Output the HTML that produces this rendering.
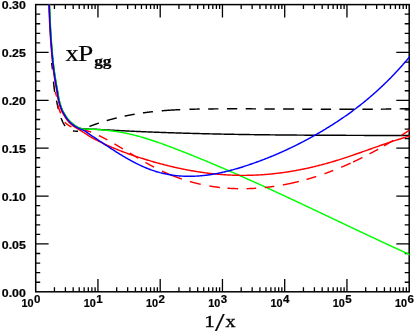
<!DOCTYPE html>
<html><head><meta charset="utf-8"><title>xPgg</title>
<style>html,body{margin:0;padding:0;background:#fff;}body{width:415px;height:333px;overflow:hidden;font-family:"Liberation Sans",sans-serif;}</style></head>
<body>
<svg width="415" height="333" viewBox="0 0 415 333" style="display:block;will-change:transform">
<rect width="415" height="333" fill="#fff"/>
<defs><clipPath id="c"><rect x="34.95" y="3.8499999999999996" width="375.0" height="288.7"/></clipPath><mask id="m"><rect width="415" height="333" fill="#fff"/></mask></defs>
<path d="M35.7,282.23h4.5 M409.2,282.23h-4.5 M35.7,272.65h4.5 M409.2,272.65h-4.5 M35.7,263.08h4.5 M409.2,263.08h-4.5 M35.7,253.51h4.5 M409.2,253.51h-4.5 M35.7,243.93h12.9 M409.2,243.93h-12.9 M35.7,234.36h4.5 M409.2,234.36h-4.5 M35.7,224.79h4.5 M409.2,224.79h-4.5 M35.7,215.21h4.5 M409.2,215.21h-4.5 M35.7,205.64h4.5 M409.2,205.64h-4.5 M35.7,196.07h12.9 M409.2,196.07h-12.9 M35.7,186.49h4.5 M409.2,186.49h-4.5 M35.7,176.92h4.5 M409.2,176.92h-4.5 M35.7,167.35h4.5 M409.2,167.35h-4.5 M35.7,157.77h4.5 M409.2,157.77h-4.5 M35.7,148.20h12.9 M409.2,148.20h-12.9 M35.7,138.63h4.5 M409.2,138.63h-4.5 M35.7,129.05h4.5 M409.2,129.05h-4.5 M35.7,119.48h4.5 M409.2,119.48h-4.5 M35.7,109.91h4.5 M409.2,109.91h-4.5 M35.7,100.33h12.9 M409.2,100.33h-12.9 M35.7,90.76h4.5 M409.2,90.76h-4.5 M35.7,81.19h4.5 M409.2,81.19h-4.5 M35.7,71.61h4.5 M409.2,71.61h-4.5 M35.7,62.04h4.5 M409.2,62.04h-4.5 M35.7,52.47h12.9 M409.2,52.47h-12.9 M35.7,42.89h4.5 M409.2,42.89h-4.5 M35.7,33.32h4.5 M409.2,33.32h-4.5 M35.7,23.75h4.5 M409.2,23.75h-4.5 M35.7,14.17h4.5 M409.2,14.17h-4.5 M54.44,291.8v-4.5 M54.44,4.6v4.5 M65.40,291.8v-4.5 M65.40,4.6v4.5 M73.18,291.8v-4.5 M73.18,4.6v4.5 M79.21,291.8v-4.5 M79.21,4.6v4.5 M84.14,291.8v-4.5 M84.14,4.6v4.5 M88.31,291.8v-4.5 M88.31,4.6v4.5 M91.92,291.8v-4.5 M91.92,4.6v4.5 M95.10,291.8v-4.5 M95.10,4.6v4.5 M97.95,291.8v-12.9 M97.95,4.6v12.9 M116.69,291.8v-4.5 M116.69,4.6v4.5 M127.65,291.8v-4.5 M127.65,4.6v4.5 M135.43,291.8v-4.5 M135.43,4.6v4.5 M141.46,291.8v-4.5 M141.46,4.6v4.5 M146.39,291.8v-4.5 M146.39,4.6v4.5 M150.56,291.8v-4.5 M150.56,4.6v4.5 M154.17,291.8v-4.5 M154.17,4.6v4.5 M157.35,291.8v-4.5 M157.35,4.6v4.5 M160.20,291.8v-12.9 M160.20,4.6v12.9 M178.94,291.8v-4.5 M178.94,4.6v4.5 M189.90,291.8v-4.5 M189.90,4.6v4.5 M197.68,291.8v-4.5 M197.68,4.6v4.5 M203.71,291.8v-4.5 M203.71,4.6v4.5 M208.64,291.8v-4.5 M208.64,4.6v4.5 M212.81,291.8v-4.5 M212.81,4.6v4.5 M216.42,291.8v-4.5 M216.42,4.6v4.5 M219.60,291.8v-4.5 M219.60,4.6v4.5 M222.45,291.8v-12.9 M222.45,4.6v12.9 M241.19,291.8v-4.5 M241.19,4.6v4.5 M252.15,291.8v-4.5 M252.15,4.6v4.5 M259.93,291.8v-4.5 M259.93,4.6v4.5 M265.96,291.8v-4.5 M265.96,4.6v4.5 M270.89,291.8v-4.5 M270.89,4.6v4.5 M275.06,291.8v-4.5 M275.06,4.6v4.5 M278.67,291.8v-4.5 M278.67,4.6v4.5 M281.85,291.8v-4.5 M281.85,4.6v4.5 M284.70,291.8v-12.9 M284.70,4.6v12.9 M303.44,291.8v-4.5 M303.44,4.6v4.5 M314.40,291.8v-4.5 M314.40,4.6v4.5 M322.18,291.8v-4.5 M322.18,4.6v4.5 M328.21,291.8v-4.5 M328.21,4.6v4.5 M333.14,291.8v-4.5 M333.14,4.6v4.5 M337.31,291.8v-4.5 M337.31,4.6v4.5 M340.92,291.8v-4.5 M340.92,4.6v4.5 M344.10,291.8v-4.5 M344.10,4.6v4.5 M346.95,291.8v-12.9 M346.95,4.6v12.9 M365.69,291.8v-4.5 M365.69,4.6v4.5 M376.65,291.8v-4.5 M376.65,4.6v4.5 M384.43,291.8v-4.5 M384.43,4.6v4.5 M390.46,291.8v-4.5 M390.46,4.6v4.5 M395.39,291.8v-4.5 M395.39,4.6v4.5 M399.56,291.8v-4.5 M399.56,4.6v4.5 M403.17,291.8v-4.5 M403.17,4.6v4.5 M406.35,291.8v-4.5 M406.35,4.6v4.5" stroke="#000" stroke-width="1.3" fill="none"/>
<rect x="35.7" y="4.6" width="373.5" height="287.2" fill="none" stroke="#000" stroke-width="1.5"/>
<g clip-path="url(#c)" fill="none" stroke-linecap="butt" stroke-linejoin="round">
<path d="M49.40,4.60 L49.42,5.37 L49.44,6.14 L49.47,6.92 L49.49,7.69 L49.52,8.46 L49.54,9.23 L49.57,10.01 L49.60,10.78 L49.63,11.55 L49.65,12.32 L49.68,13.09 L49.72,13.86 L49.75,14.64 L49.78,15.41 L49.81,16.18 L49.85,16.95 L49.88,17.72 L49.91,18.49 L49.95,19.27 L49.99,20.04 L50.02,20.81 L50.06,21.58 L50.10,22.35 L50.14,23.12 L50.17,23.89 L50.21,24.66 L50.25,25.44 L50.29,26.21 L50.34,26.98 L50.38,27.75 L50.42,28.52 L50.46,29.29 L50.50,30.06 L50.55,30.83 L50.59,31.60 L50.64,32.37 L50.68,33.14 L50.73,33.92 L50.78,34.69 L50.83,35.46 L50.88,36.23 L50.93,37.00 L50.98,37.77 L51.03,38.54 L51.08,39.31 L51.14,40.08 L51.19,40.85 L51.25,41.62 L51.31,42.39 L51.37,43.16 L51.43,43.93 L51.49,44.70 L51.55,45.47 L51.61,46.24 L51.67,47.01 L51.73,47.78 L51.80,48.55 L51.86,49.32 L51.93,50.09 L51.99,50.86 L52.06,51.63 L52.13,52.40 L52.20,53.17 L52.27,53.94 L52.34,54.71 L52.41,55.48 L52.48,56.25 L52.56,57.02 L52.63,57.78 L52.71,58.55 L52.78,59.32 L52.86,60.09 L52.94,60.86 L53.01,61.62 L53.10,62.39 L53.18,63.16 L53.27,63.93 L53.36,64.69 L53.45,65.46 L53.54,66.23 L53.64,66.99 L53.74,67.76 L53.84,68.53 L53.94,69.29 L54.05,70.06 L54.15,70.82 L54.26,71.59 L54.37,72.35 L54.48,73.12 L54.59,73.88 L54.70,74.65 L54.81,75.41 L54.93,76.17 L55.04,76.94 L55.16,77.70 L55.28,78.46 L55.41,79.22 L55.53,79.98 L55.66,80.75 L55.79,81.51 L55.93,82.27 L56.06,83.03 L56.20,83.79 L56.33,84.55 L56.47,85.31 L56.60,86.07 L56.74,86.83 L56.88,87.59 L57.01,88.35 L57.15,89.11 L57.28,89.87 L57.41,90.63 L57.53,91.40 L57.66,92.16 L57.78,92.93 L57.90,93.69 L58.02,94.46 L58.15,95.22 L58.27,95.98 L58.40,96.74 L58.54,97.50 L58.68,98.26 L58.84,99.02 L59.00,99.77 L59.17,100.52 L59.35,101.26 L59.54,102.01 L59.74,102.76 L59.96,103.51 L60.18,104.26 L60.41,105.00 L60.65,105.74 L60.90,106.48 L61.16,107.21 L61.42,107.93 L61.70,108.65 L61.98,109.36 L62.28,110.06 L62.59,110.76 L62.94,111.45 L63.31,112.13 L63.70,112.80 L64.10,113.47 L64.51,114.13 L64.92,114.79 L65.32,115.44 L65.73,116.10 L66.15,116.76 L66.57,117.41 L67.01,118.06 L67.46,118.69 L67.92,119.30 L68.40,119.89 L68.91,120.46 L69.43,121.02 L69.97,121.57 L70.53,122.12 L71.11,122.64 L71.70,123.16 L72.30,123.66 L72.91,124.14 L73.52,124.60 L74.14,125.04 L74.77,125.49 L75.42,125.93 L76.09,126.36 L76.76,126.76 L77.44,127.12 L78.14,127.45 L78.84,127.72 L79.56,127.95 L80.30,128.19 L81.06,128.40 L81.82,128.59 L82.58,128.74 L83.35,128.85 L84.11,128.91 L84.87,128.96 L85.64,128.99 L86.41,129.02 L87.18,129.05 L87.95,129.07 L88.72,129.09 L89.50,129.10 L90.27,129.12 L91.05,129.14 L91.83,129.15 L92.60,129.17 L93.38,129.20 L94.15,129.22 L94.92,129.25 L95.69,129.29 L96.46,129.34 L97.23,129.39 L98.00,129.44 L98.78,129.48 L99.55,129.53 L100.32,129.57 L101.09,129.62 L101.86,129.66 L102.63,129.70 L103.40,129.75 L104.17,129.79 L104.94,129.83 L105.71,129.88 L106.49,129.92 L107.26,129.96 L108.03,130.01 L108.80,130.05 L109.57,130.09 L110.34,130.13 L111.11,130.17 L111.88,130.21 L112.66,130.26 L113.43,130.30 L114.20,130.34 L114.97,130.38 L115.74,130.42 L116.51,130.46 L117.28,130.50 L118.05,130.54 L118.82,130.58 L119.60,130.61 L120.37,130.65 L121.14,130.69 L121.91,130.73 L122.68,130.77 L123.45,130.81 L124.22,130.84 L125.00,130.88 L125.77,130.92 L126.54,130.96 L127.31,130.99 L128.08,131.03 L128.85,131.07 L129.62,131.10 L130.40,131.14 L131.17,131.18 L131.94,131.21 L132.71,131.25 L133.48,131.28 L134.25,131.32 L135.02,131.35 L135.80,131.39 L136.57,131.42 L137.34,131.45 L138.11,131.49 L138.88,131.52 L139.65,131.56 L140.42,131.59 L141.20,131.62 L141.97,131.66 L142.74,131.69 L143.51,131.72 L144.28,131.75 L145.05,131.79 L145.83,131.82 L146.60,131.85 L147.37,131.88 L148.14,131.91 L148.91,131.94 L149.68,131.98 L150.46,132.01 L151.23,132.04 L152.00,132.07 L152.77,132.10 L153.54,132.13 L154.31,132.16 L155.09,132.19 L155.86,132.22 L156.63,132.25 L157.40,132.27 L158.17,132.30 L158.94,132.33 L159.72,132.36 L160.49,132.39 L161.26,132.42 L162.03,132.45 L162.80,132.47 L163.58,132.50 L164.35,132.53 L165.12,132.56 L165.89,132.58 L166.66,132.61 L167.43,132.64 L168.21,132.66 L168.98,132.69 L169.75,132.72 L170.52,132.74 L171.29,132.77 L172.07,132.79 L172.84,132.82 L173.61,132.84 L174.38,132.87 L175.15,132.89 L175.92,132.92 L176.70,132.94 L177.47,132.97 L178.24,132.99 L179.01,133.02 L179.78,133.04 L180.56,133.06 L181.33,133.09 L182.10,133.11 L182.87,133.13 L183.64,133.16 L184.42,133.18 L185.19,133.20 L185.96,133.23 L186.73,133.25 L187.50,133.27 L188.28,133.29 L189.05,133.32 L189.82,133.34 L190.59,133.36 L191.36,133.38 L192.13,133.40 L192.91,133.42 L193.68,133.44 L194.45,133.46 L195.22,133.49 L195.99,133.51 L196.77,133.53 L197.54,133.55 L198.31,133.57 L199.08,133.59 L199.85,133.61 L200.63,133.63 L201.40,133.65 L202.17,133.66 L202.94,133.68 L203.72,133.70 L204.49,133.72 L205.26,133.74 L206.03,133.76 L206.80,133.78 L207.58,133.80 L208.35,133.81 L209.12,133.83 L209.89,133.85 L210.66,133.87 L211.44,133.89 L212.21,133.90 L212.98,133.92 L213.75,133.94 L214.52,133.95 L215.30,133.97 L216.07,133.99 L216.84,134.00 L217.61,134.02 L218.38,134.04 L219.16,134.05 L219.93,134.07 L220.70,134.08 L221.47,134.10 L222.25,134.12 L223.02,134.13 L223.79,134.15 L224.56,134.16 L225.33,134.18 L226.11,134.19 L226.88,134.21 L227.65,134.22 L228.42,134.24 L229.19,134.25 L229.97,134.27 L230.74,134.28 L231.51,134.29 L232.28,134.31 L233.06,134.32 L233.83,134.34 L234.60,134.35 L235.37,134.36 L236.14,134.38 L236.92,134.39 L237.69,134.40 L238.46,134.41 L239.23,134.43 L240.00,134.44 L240.78,134.45 L241.55,134.47 L242.32,134.48 L243.09,134.49 L243.87,134.50 L244.64,134.51 L245.41,134.53 L246.18,134.54 L246.95,134.55 L247.73,134.56 L248.50,134.57 L249.27,134.58 L250.04,134.60 L250.82,134.61 L251.59,134.62 L252.36,134.63 L253.13,134.64 L253.90,134.65 L254.68,134.66 L255.45,134.67 L256.22,134.68 L256.99,134.69 L257.76,134.70 L258.54,134.71 L259.31,134.72 L260.08,134.73 L260.85,134.74 L261.63,134.75 L262.40,134.76 L263.17,134.77 L263.94,134.78 L264.71,134.79 L265.49,134.80 L266.26,134.81 L267.03,134.82 L267.80,134.83 L268.58,134.83 L269.35,134.84 L270.12,134.85 L270.89,134.86 L271.66,134.87 L272.44,134.88 L273.21,134.88 L273.98,134.89 L274.75,134.90 L275.53,134.91 L276.30,134.92 L277.07,134.92 L277.84,134.93 L278.61,134.94 L279.39,134.95 L280.16,134.96 L280.93,134.96 L281.70,134.97 L282.48,134.98 L283.25,134.98 L284.02,134.99 L284.79,135.00 L285.57,135.00 L286.34,135.01 L287.11,135.02 L287.88,135.02 L288.65,135.03 L289.43,135.04 L290.20,135.04 L290.97,135.05 L291.74,135.06 L292.52,135.06 L293.29,135.07 L294.06,135.08 L294.83,135.08 L295.60,135.09 L296.38,135.09 L297.15,135.10 L297.92,135.10 L298.69,135.11 L299.47,135.12 L300.24,135.12 L301.01,135.13 L301.78,135.13 L302.55,135.14 L303.33,135.14 L304.10,135.15 L304.87,135.15 L305.64,135.16 L306.42,135.16 L307.19,135.17 L307.96,135.17 L308.73,135.18 L309.50,135.18 L310.28,135.19 L311.05,135.19 L311.82,135.19 L312.59,135.20 L313.37,135.20 L314.14,135.21 L314.91,135.21 L315.68,135.22 L316.46,135.22 L317.23,135.22 L318.00,135.23 L318.77,135.23 L319.54,135.24 L320.32,135.24 L321.09,135.24 L321.86,135.25 L322.63,135.25 L323.41,135.26 L324.18,135.26 L324.95,135.26 L325.72,135.27 L326.49,135.27 L327.27,135.27 L328.04,135.28 L328.81,135.28 L329.58,135.28 L330.36,135.29 L331.13,135.29 L331.90,135.29 L332.67,135.30 L333.45,135.30 L334.22,135.30 L334.99,135.31 L335.76,135.31 L336.53,135.31 L337.31,135.31 L338.08,135.32 L338.85,135.32 L339.62,135.32 L340.40,135.33 L341.17,135.33 L341.94,135.33 L342.71,135.33 L343.48,135.34 L344.26,135.34 L345.03,135.34 L345.80,135.34 L346.57,135.35 L347.35,135.35 L348.12,135.35 L348.89,135.35 L349.66,135.36 L350.44,135.36 L351.21,135.36 L351.98,135.36 L352.75,135.37 L353.52,135.37 L354.30,135.37 L355.07,135.37 L355.84,135.38 L356.61,135.38 L357.39,135.38 L358.16,135.38 L358.93,135.38 L359.70,135.39 L360.47,135.39 L361.25,135.39 L362.02,135.39 L362.79,135.39 L363.56,135.40 L364.34,135.40 L365.11,135.40 L365.88,135.40 L366.65,135.41 L367.43,135.41 L368.20,135.41 L368.97,135.41 L369.74,135.41 L370.51,135.41 L371.29,135.42 L372.06,135.42 L372.83,135.42 L373.60,135.42 L374.38,135.42 L375.15,135.43 L375.92,135.43 L376.69,135.43 L377.46,135.43 L378.24,135.43 L379.01,135.44 L379.78,135.44 L380.55,135.44 L381.33,135.44 L382.10,135.44 L382.87,135.45 L383.64,135.45 L384.42,135.45 L385.19,135.45 L385.96,135.45 L386.73,135.45 L387.50,135.46 L388.28,135.46 L389.05,135.46 L389.82,135.46 L390.59,135.46 L391.37,135.47 L392.14,135.47 L392.91,135.47 L393.68,135.47 L394.45,135.47 L395.23,135.48 L396.00,135.48 L396.77,135.48 L397.54,135.48 L398.32,135.48 L399.09,135.49 L399.86,135.49 L400.63,135.49 L401.41,135.49 L402.18,135.49 L402.95,135.50 L403.72,135.50 L404.49,135.50 L405.27,135.50 L406.04,135.51 L406.81,135.51 L407.58,135.51 L408.36,135.51 L409.13,135.51 L409.90,135.52" stroke="#000" stroke-width="1.45"/>
<path d="M51.71,63.04 L51.72,63.20 L51.73,63.35 L51.75,63.51 L51.76,63.67 L51.78,63.82 L51.79,63.98 L51.81,64.14 L51.83,64.29 L51.84,64.45 L51.86,64.61 L51.88,64.76 L51.90,64.92 L51.92,65.08 L51.94,65.23 L51.96,65.39 L51.98,65.55 L52.00,65.70 L52.02,65.86 L52.04,66.02 L52.06,66.17 L52.08,66.33 L52.11,66.49 L52.13,66.64 L52.15,66.80 L52.17,66.95 L52.19,67.11 L52.21,67.27 L52.24,67.42 L52.26,67.58 L52.28,67.74 L52.30,67.89 L52.32,68.05 L52.34,68.21 L52.36,68.36 L52.38,68.52 L52.40,68.68 L52.42,68.83 L52.43,68.99 L52.45,69.15 L52.47,69.30 L52.49,69.46 M53.50,81.72 L53.52,81.87 L53.53,82.03 L53.55,82.19 L53.56,82.35 L53.58,82.50 L53.59,82.66 L53.61,82.82 L53.62,82.97 L53.64,83.13 L53.66,83.29 L53.67,83.44 L53.69,83.60 L53.70,83.76 L53.72,83.92 L53.73,84.07 L53.75,84.23 L53.77,84.39 L53.78,84.54 L53.80,84.70 L53.82,84.86 L53.83,85.02 L53.85,85.17 L53.86,85.33 L53.88,85.49 L53.90,85.64 L53.91,85.80 L53.93,85.96 L53.95,86.11 L53.97,86.27 L53.98,86.43 L54.00,86.59 L54.02,86.74 L54.04,86.90 L54.05,87.06 L54.07,87.21 L54.09,87.37 L54.11,87.53 L54.13,87.68 L54.14,87.84 L54.16,88.00 L54.18,88.15 L54.20,88.31 L54.22,88.47 L54.24,88.62 L54.26,88.78 L54.28,88.94 L54.30,89.09 L54.32,89.25 L54.34,89.41 L54.36,89.56 L54.38,89.72 L54.40,89.87 L54.42,90.03 L54.44,90.19 L54.46,90.34 L54.48,90.50 L54.50,90.65 L54.53,90.81 L54.55,90.97 L54.57,91.12 L54.59,91.28 L54.62,91.43 L54.64,91.59 L54.66,91.75 L54.68,91.90 M56.51,100.54 L56.54,100.70 L56.57,100.85 L56.61,101.00 L56.64,101.16 L56.67,101.31 L56.70,101.47 L56.74,101.62 L56.77,101.78 L56.80,101.93 L56.83,102.09 L56.86,102.24 L56.89,102.39 L56.93,102.55 L56.96,102.70 L56.99,102.86 L57.02,103.01 L57.05,103.17 L57.08,103.32 L57.12,103.48 L57.15,103.63 L57.18,103.79 L57.21,103.94 L57.24,104.10 L57.27,104.25 L57.30,104.41 L57.34,104.56 L57.37,104.72 L57.40,104.87 L57.43,105.02 L57.46,105.18 L57.50,105.33 L57.53,105.49 L57.56,105.64 L57.59,105.80 L57.63,105.95 L57.66,106.10 L57.69,106.26 L57.73,106.41 L57.76,106.57 L57.79,106.72 L57.83,106.88 L57.86,107.03 L57.90,107.18 L57.93,107.34 L57.97,107.49 L58.00,107.64 L58.04,107.80 L58.07,107.95 L58.11,108.10 L58.14,108.26 L58.18,108.41 L58.22,108.56 L58.25,108.72 L58.29,108.87 L58.33,109.02 L58.37,109.17 M61.05,117.92 L61.10,118.07 L61.16,118.21 L61.22,118.36 L61.27,118.50 L61.33,118.65 L61.39,118.80 L61.45,118.95 L61.51,119.09 L61.57,119.24 L61.63,119.39 L61.69,119.53 L61.75,119.68 L61.81,119.83 L61.87,119.98 L61.94,120.12 L62.00,120.27 L62.06,120.42 L62.13,120.56 L62.19,120.71 L62.26,120.86 L62.32,121.00 L62.39,121.15 L62.46,121.30 L62.52,121.44 L62.59,121.59 L62.66,121.73 L62.73,121.88 L62.80,122.02 L62.87,122.16 L62.94,122.31 L63.01,122.45 L63.08,122.59 L63.15,122.74 L63.23,122.88 L63.30,123.02 L63.37,123.16 L63.45,123.30 L63.52,123.44 L63.60,123.58 L63.68,123.72 L63.75,123.86 L63.83,123.99 L63.91,124.13 L63.99,124.27 L64.07,124.40 L64.15,124.54 L64.23,124.67 L64.31,124.80 L64.39,124.93 L64.47,125.07 L64.56,125.20 L64.64,125.33 L64.73,125.45 L64.81,125.58 L64.90,125.71 L64.98,125.84 L65.07,125.96 M72.93,131.01 L73.09,131.02 L73.24,131.03 L73.40,131.04 L73.55,131.05 L73.71,131.06 L73.86,131.07 L74.02,131.08 L74.18,131.09 L74.34,131.10 L74.49,131.10 L74.65,131.11 L74.81,131.12 L74.97,131.13 L75.13,131.13 L75.29,131.14 L75.45,131.15 L75.61,131.15 L75.77,131.16 L75.93,131.16 L76.09,131.17 L76.24,131.17 L76.40,131.18 L76.56,131.18 L76.72,131.18 L76.88,131.19 L77.04,131.19 L77.20,131.19 L77.35,131.20 L77.51,131.20 L77.67,131.20 L77.82,131.20 L77.98,131.20 M89.38,126.48 L89.53,126.42 L89.67,126.36 L89.82,126.30 L89.97,126.24 L90.11,126.18 L90.26,126.13 L90.41,126.07 L90.56,126.02 L90.70,125.96 L90.85,125.91 L91.00,125.85 L91.15,125.80 L91.30,125.75 L91.45,125.69 L91.60,125.64 L91.75,125.59 L91.89,125.53 L92.04,125.48 L92.19,125.42 L92.34,125.37 L92.49,125.31 L92.63,125.26 L92.78,125.20 L92.93,125.15 L93.08,125.10 L93.23,125.04 L93.37,124.99 L93.52,124.93 L93.67,124.88 L93.82,124.83 L93.97,124.77 L94.12,124.72 L94.26,124.67 L94.41,124.61 L94.56,124.56 L94.71,124.51 L94.86,124.46 L95.01,124.40 L95.16,124.35 L95.30,124.30 L95.45,124.25 L95.60,124.19 L95.75,124.14 L95.90,124.09 L96.05,124.04 L96.20,123.99 L96.35,123.93 L96.50,123.88 L96.64,123.83 L96.79,123.78 L96.94,123.73 L97.09,123.68 L97.24,123.63 L97.39,123.57 L97.54,123.52 L97.69,123.47 L97.84,123.42 L97.99,123.37 L98.14,123.32 L98.29,123.27 L98.44,123.22 L98.59,123.17 L98.74,123.12 L98.88,123.07 M106.71,120.62 L106.86,120.58 L107.01,120.53 L107.16,120.49 L107.32,120.44 L107.47,120.40 L107.62,120.36 L107.77,120.31 L107.92,120.27 L108.07,120.23 L108.23,120.18 L108.38,120.14 L108.53,120.10 L108.68,120.05 L108.83,120.01 L108.98,119.97 L109.14,119.92 L109.29,119.88 L109.44,119.84 L109.59,119.80 L109.74,119.75 L109.89,119.71 L110.05,119.67 L110.20,119.63 L110.35,119.59 L110.50,119.54 L110.66,119.50 L110.81,119.46 L110.96,119.42 L111.11,119.38 L111.26,119.34 L111.42,119.30 L111.57,119.25 L111.72,119.21 L111.87,119.17 L112.03,119.13 L112.18,119.09 L112.33,119.05 L112.48,119.01 L112.63,118.97 L112.79,118.93 L112.94,118.89 L113.09,118.85 L113.24,118.81 L113.40,118.77 L113.55,118.73 L113.70,118.69 L113.86,118.65 L114.01,118.61 L114.16,118.57 L114.31,118.53 L114.47,118.49 L114.62,118.45 L114.77,118.41 L114.92,118.38 L115.08,118.34 L115.23,118.30 L115.38,118.26 L115.54,118.22 L115.69,118.18 L115.84,118.14 L116.00,118.11 L116.15,118.07 L116.30,118.03 L116.45,117.99 L116.61,117.95 L116.76,117.92 M124.60,116.13 L124.76,116.09 L124.91,116.06 L125.06,116.03 L125.22,116.00 L125.37,115.96 L125.53,115.93 L125.68,115.90 L125.84,115.87 L125.99,115.84 L126.15,115.80 L126.30,115.77 L126.45,115.74 L126.61,115.71 L126.76,115.68 L126.92,115.65 L127.07,115.62 L127.23,115.59 L127.38,115.55 L127.54,115.52 L127.69,115.49 L127.85,115.46 L128.00,115.43 L128.16,115.40 L128.31,115.37 L128.46,115.34 L128.62,115.31 L128.77,115.28 L128.93,115.25 L129.08,115.22 L129.24,115.19 L129.39,115.16 L129.55,115.13 L129.70,115.10 L129.86,115.07 L130.01,115.04 L130.17,115.01 L130.32,114.98 L130.48,114.95 L130.63,114.93 L130.79,114.90 L130.94,114.87 L131.10,114.84 L131.25,114.81 L131.41,114.78 L131.56,114.75 L131.72,114.72 L131.87,114.70 L132.03,114.67 L132.18,114.64 L132.34,114.61 L132.49,114.58 L132.65,114.56 L132.80,114.53 L132.96,114.50 L133.12,114.47 L133.27,114.45 L133.43,114.42 L133.58,114.39 L133.74,114.36 L133.89,114.34 L134.05,114.31 L134.20,114.28 L134.36,114.26 L134.51,114.23 L134.67,114.20 M142.93,112.91 L143.08,112.89 L143.24,112.87 L143.40,112.84 L143.55,112.82 L143.71,112.80 L143.86,112.78 L144.02,112.76 L144.18,112.74 L144.33,112.71 L144.49,112.69 L144.64,112.67 L144.80,112.65 L144.96,112.63 L145.11,112.61 L145.27,112.59 L145.43,112.57 L145.58,112.54 L145.74,112.52 L145.90,112.50 L146.05,112.48 L146.21,112.46 L146.36,112.44 L146.52,112.42 L146.68,112.40 L146.83,112.38 L146.99,112.36 L147.15,112.34 L147.30,112.32 L147.46,112.30 L147.62,112.28 L147.77,112.26 L147.93,112.24 L148.09,112.22 L148.24,112.20 L148.40,112.18 L148.55,112.16 L148.71,112.14 L148.87,112.13 L149.02,112.11 L149.18,112.09 L149.34,112.07 L149.49,112.05 L149.65,112.03 L149.81,112.01 L149.96,111.99 L150.12,111.97 L150.28,111.96 L150.43,111.94 L150.59,111.92 L150.75,111.90 L150.90,111.88 L151.06,111.86 L151.22,111.85 L151.37,111.83 L151.53,111.81 L151.69,111.79 L151.84,111.78 L152.00,111.76 L152.16,111.74 L152.31,111.72 L152.47,111.70 L152.63,111.69 L152.78,111.67 L152.94,111.65 M161.73,110.80 L161.89,110.78 L162.04,110.77 L162.20,110.76 L162.36,110.74 L162.52,110.73 L162.67,110.72 L162.83,110.71 L162.99,110.69 L163.14,110.68 L163.30,110.67 L163.46,110.65 L163.62,110.64 L163.77,110.63 L163.93,110.62 L164.09,110.60 L164.25,110.59 L164.40,110.58 L164.56,110.57 L164.72,110.55 L164.87,110.54 L165.03,110.53 L165.19,110.52 L165.35,110.51 L165.50,110.49 L165.66,110.48 L165.82,110.47 L165.97,110.46 L166.13,110.45 L166.29,110.44 L166.45,110.42 L166.60,110.41 L166.76,110.40 L166.92,110.39 L167.08,110.38 L167.23,110.37 L167.39,110.36 L167.55,110.34 L167.70,110.33 L167.86,110.32 L168.02,110.31 L168.18,110.30 L168.33,110.29 L168.49,110.28 L168.65,110.27 L168.81,110.26 L168.96,110.25 L169.12,110.24 L169.28,110.23 L169.44,110.21 L169.59,110.20 L169.75,110.19 L169.91,110.18 L170.07,110.17 L170.22,110.16 L170.38,110.15 L170.54,110.14 L170.69,110.13 L170.85,110.12 L171.01,110.11 L171.17,110.10 L171.32,110.09 L171.48,110.08 L171.64,110.07 L171.80,110.06 L171.95,110.05 L172.11,110.04 L172.27,110.04 L172.43,110.03 L172.58,110.02 L172.74,110.01 L172.90,110.00 L173.06,109.99 L173.21,109.98 L173.37,109.97 L173.53,109.96 L173.69,109.95 L173.84,109.94 L174.00,109.93 L174.16,109.93 L174.32,109.92 L174.47,109.91 L174.63,109.90 L174.79,109.89 L174.95,109.88 L175.10,109.87 L175.26,109.86 L175.42,109.86 L175.58,109.85 L175.73,109.84 L175.89,109.83 L176.05,109.82 L176.21,109.82 L176.36,109.81 L176.52,109.80 L176.68,109.79 L176.84,109.78 L176.99,109.77 L177.15,109.77 L177.31,109.76 L177.47,109.75 L177.62,109.74 L177.78,109.74 L177.94,109.73 L178.10,109.72 L178.25,109.71 L178.41,109.71 L178.57,109.70 L178.73,109.69 L178.88,109.68 L179.04,109.68 L179.20,109.67 L179.36,109.66 L179.51,109.65 L179.67,109.65 L179.83,109.64 L179.99,109.63 L180.14,109.63 L180.30,109.62 M189.44,109.29 L189.60,109.28 L189.76,109.28 L189.91,109.27 L190.07,109.27 L190.23,109.26 L190.39,109.26 L190.54,109.25 L190.70,109.25 L190.86,109.25 L191.02,109.24 L191.18,109.24 L191.33,109.23 L191.49,109.23 L191.65,109.22 L191.81,109.22 L191.96,109.22 L192.12,109.21 L192.28,109.21 L192.44,109.20 L192.59,109.20 L192.75,109.20 L192.91,109.19 L193.07,109.19 L193.22,109.18 L193.38,109.18 L193.54,109.18 L193.70,109.17 L193.86,109.17 L194.01,109.17 L194.17,109.16 L194.33,109.16 L194.49,109.16 L194.64,109.15 L194.80,109.15 L194.96,109.14 L195.12,109.14 L195.27,109.14 L195.43,109.13 L195.59,109.13 L195.75,109.13 L195.91,109.12 L196.06,109.12 L196.22,109.12 L196.38,109.11 L196.54,109.11 L196.69,109.11 L196.85,109.11 L197.01,109.10 L197.17,109.10 L197.32,109.10 L197.48,109.09 L197.64,109.09 L197.80,109.09 L197.95,109.08 L198.11,109.08 L198.27,109.08 L198.43,109.08 L198.59,109.07 L198.74,109.07 L198.90,109.07 L199.06,109.06 L199.22,109.06 L199.37,109.06 L199.53,109.06 L199.69,109.05 M208.20,108.94 L208.36,108.94 L208.52,108.94 L208.68,108.94 L208.84,108.94 L208.99,108.93 L209.15,108.93 L209.31,108.93 L209.47,108.93 L209.62,108.93 L209.78,108.93 L209.94,108.93 L210.10,108.92 L210.25,108.92 L210.41,108.92 L210.57,108.92 L210.73,108.92 L210.89,108.92 L211.04,108.92 L211.20,108.91 L211.36,108.91 L211.52,108.91 L211.67,108.91 L211.83,108.91 L211.99,108.91 L212.15,108.91 L212.30,108.91 L212.46,108.91 L212.62,108.90 L212.78,108.90 L212.94,108.90 L213.09,108.90 L213.25,108.90 L213.41,108.90 L213.57,108.90 L213.72,108.90 L213.88,108.89 L214.04,108.89 L214.20,108.89 L214.35,108.89 L214.51,108.89 L214.67,108.89 L214.83,108.89 L214.99,108.89 L215.14,108.89 L215.30,108.89 L215.46,108.88 L215.62,108.88 L215.77,108.88 L215.93,108.88 L216.09,108.88 L216.25,108.88 L216.40,108.88 L216.56,108.88 L216.72,108.88 L216.88,108.88 L217.04,108.87 L217.19,108.87 L217.35,108.87 L217.51,108.87 L217.67,108.87 L217.82,108.87 L217.98,108.87 L218.14,108.87 L218.30,108.87 L218.45,108.87 M226.97,108.83 L227.13,108.83 L227.29,108.83 L227.44,108.83 L227.60,108.83 L227.76,108.83 L227.92,108.83 L228.07,108.83 L228.23,108.83 L228.39,108.83 L228.55,108.83 L228.71,108.83 L228.86,108.83 L229.02,108.83 L229.18,108.83 L229.34,108.83 L229.49,108.83 L229.65,108.83 L229.81,108.83 L229.97,108.83 L230.12,108.83 L230.28,108.83 L230.44,108.83 L230.60,108.82 L230.76,108.82 L230.91,108.82 L231.07,108.82 L231.23,108.82 L231.39,108.82 L231.54,108.82 L231.70,108.82 L231.86,108.82 L232.02,108.82 L232.18,108.82 L232.33,108.82 L232.49,108.82 L232.65,108.82 L232.81,108.82 L232.96,108.82 L233.12,108.82 L233.28,108.82 L233.44,108.82 L233.59,108.82 L233.75,108.82 L233.91,108.82 L234.07,108.82 L234.23,108.82 L234.38,108.82 L234.54,108.82 L234.70,108.82 L234.86,108.82 L235.01,108.82 L235.17,108.82 L235.33,108.82 L235.49,108.82 L235.64,108.82 L235.80,108.82 L235.96,108.82 L236.12,108.82 L236.28,108.82 L236.43,108.82 L236.59,108.82 L236.75,108.82 L236.91,108.82 L237.06,108.82 L237.22,108.82 M245.74,108.83 L245.90,108.83 L246.05,108.83 L246.21,108.83 L246.37,108.83 L246.53,108.83 L246.68,108.83 L246.84,108.83 L247.00,108.83 L247.16,108.83 L247.31,108.83 L247.47,108.83 L247.63,108.83 L247.79,108.83 L247.95,108.83 L248.10,108.83 L248.26,108.83 L248.42,108.83 L248.58,108.84 L248.73,108.84 L248.89,108.84 L249.05,108.84 L249.21,108.84 L249.36,108.84 L249.52,108.84 L249.68,108.84 L249.84,108.84 L250.00,108.84 L250.15,108.84 L250.31,108.84 L250.47,108.84 L250.63,108.84 L250.78,108.84 L250.94,108.84 L251.10,108.84 L251.26,108.84 L251.41,108.84 L251.57,108.84 L251.73,108.84 L251.89,108.84 L252.05,108.85 L252.20,108.85 L252.36,108.85 L252.52,108.85 L252.68,108.85 L252.83,108.85 L252.99,108.85 L253.15,108.85 L253.31,108.85 L253.46,108.85 L253.62,108.85 L253.78,108.85 L253.94,108.85 L254.10,108.85 L254.25,108.85 L254.41,108.85 L254.57,108.85 L254.73,108.85 L254.88,108.86 L255.04,108.86 L255.20,108.86 L255.36,108.86 L255.52,108.86 L255.67,108.86 L255.83,108.86 L255.99,108.86 M264.50,108.90 L264.66,108.90 L264.82,108.90 L264.98,108.90 L265.13,108.90 L265.29,108.90 L265.45,108.90 L265.61,108.90 L265.77,108.90 L265.92,108.91 L266.08,108.91 L266.24,108.91 L266.40,108.91 L266.55,108.91 L266.71,108.91 L266.87,108.91 L267.03,108.91 L267.18,108.91 L267.34,108.91 L267.50,108.91 L267.66,108.91 L267.82,108.92 L267.97,108.92 L268.13,108.92 L268.29,108.92 L268.45,108.92 L268.60,108.92 L268.76,108.92 L268.92,108.92 L269.08,108.92 L269.24,108.92 L269.39,108.92 L269.55,108.93 L269.71,108.93 L269.87,108.93 L270.02,108.93 L270.18,108.93 L270.34,108.93 L270.50,108.93 L270.65,108.93 L270.81,108.93 L270.97,108.93 L271.13,108.93 L271.29,108.94 L271.44,108.94 L271.60,108.94 L271.76,108.94 L271.92,108.94 L272.07,108.94 L272.23,108.94 L272.39,108.94 L272.55,108.94 L272.70,108.94 L272.86,108.94 L273.02,108.95 L273.18,108.95 L273.34,108.95 L273.49,108.95 L273.65,108.95 L273.81,108.95 L273.97,108.95 L274.12,108.95 L274.28,108.95 L274.44,108.95 L274.60,108.96 L274.75,108.96 M283.11,109.01 L283.27,109.01 L283.43,109.01 L283.59,109.01 L283.74,109.01 L283.90,109.02 L284.06,109.02 L284.22,109.02 L284.37,109.02 L284.53,109.02 L284.69,109.02 L284.85,109.02 L285.01,109.02 L285.16,109.02 L285.32,109.02 L285.48,109.03 L285.64,109.03 L285.79,109.03 L285.95,109.03 L286.11,109.03 L286.27,109.03 L286.42,109.03 L286.58,109.03 L286.74,109.03 L286.90,109.04 L287.06,109.04 L287.21,109.04 L287.37,109.04 L287.53,109.04 L287.69,109.04 L287.84,109.04 L288.00,109.04 L288.16,109.04 L288.32,109.05 L288.47,109.05 L288.63,109.05 L288.79,109.05 L288.95,109.05 L289.11,109.05 L289.26,109.05 L289.42,109.05 L289.58,109.05 L289.74,109.05 L289.89,109.06 L290.05,109.06 L290.21,109.06 L290.37,109.06 L290.52,109.06 L290.68,109.06 L290.84,109.06 L291.00,109.06 L291.16,109.06 L291.31,109.07 L291.47,109.07 L291.63,109.07 L291.79,109.07 L291.94,109.07 L292.10,109.07 L292.26,109.07 L292.42,109.07 L292.57,109.07 L292.73,109.08 L292.89,109.08 L293.05,109.08 L293.21,109.08 L293.36,109.08 L293.52,109.08 L293.68,109.08 L293.84,109.08 L293.99,109.08 L294.15,109.08 M302.04,109.14 L302.19,109.14 L302.35,109.14 L302.51,109.14 L302.67,109.14 L302.83,109.14 L302.98,109.14 L303.14,109.15 L303.30,109.15 L303.46,109.15 L303.61,109.15 L303.77,109.15 L303.93,109.15 L304.09,109.15 L304.24,109.15 L304.40,109.15 L304.56,109.15 L304.72,109.16 L304.88,109.16 L305.03,109.16 L305.19,109.16 L305.35,109.16 L305.51,109.16 L305.66,109.16 L305.82,109.16 L305.98,109.16 L306.14,109.16 L306.29,109.17 L306.45,109.17 L306.61,109.17 L306.77,109.17 L306.93,109.17 L307.08,109.17 L307.24,109.17 L307.40,109.17 L307.56,109.17 L307.71,109.17 L307.87,109.18 L308.03,109.18 L308.19,109.18 L308.34,109.18 L308.50,109.18 L308.66,109.18 L308.82,109.18 L308.98,109.18 L309.13,109.18 L309.29,109.18 L309.45,109.19 L309.61,109.19 L309.76,109.19 L309.92,109.19 L310.08,109.19 L310.24,109.19 L310.39,109.19 L310.55,109.19 L310.71,109.19 L310.87,109.19 L311.03,109.20 L311.18,109.20 L311.34,109.20 L311.50,109.20 L311.66,109.20 L311.81,109.20 L311.97,109.20 L312.13,109.20 L312.29,109.20 M320.80,109.25 L320.96,109.25 L321.12,109.25 L321.28,109.25 L321.43,109.25 L321.59,109.25 L321.75,109.25 L321.91,109.25 L322.06,109.26 L322.22,109.26 L322.38,109.26 L322.54,109.26 L322.70,109.26 L322.85,109.26 L323.01,109.26 L323.17,109.26 L323.33,109.26 L323.48,109.26 L323.64,109.26 L323.80,109.26 L323.96,109.26 L324.11,109.27 L324.27,109.27 L324.43,109.27 L324.59,109.27 L324.75,109.27 L324.90,109.27 L325.06,109.27 L325.22,109.27 L325.38,109.27 L325.53,109.27 L325.69,109.27 L325.85,109.27 L326.01,109.27 L326.16,109.27 L326.32,109.28 L326.48,109.28 L326.64,109.28 L326.80,109.28 L326.95,109.28 L327.11,109.28 L327.27,109.28 L327.43,109.28 L327.58,109.28 L327.74,109.28 L327.90,109.28 L328.06,109.28 L328.21,109.28 L328.37,109.28 L328.53,109.28 L328.69,109.28 L328.85,109.29 L329.00,109.29 L329.16,109.29 L329.32,109.29 L329.48,109.29 L329.63,109.29 L329.79,109.29 L329.95,109.29 L330.11,109.29 L330.27,109.29 L330.42,109.29 L330.58,109.29 L330.74,109.29 L330.90,109.29 L331.05,109.29 M339.41,109.32 L339.57,109.32 L339.73,109.32 L339.88,109.32 L340.04,109.32 L340.20,109.32 L340.36,109.32 L340.52,109.32 L340.67,109.32 L340.83,109.32 L340.99,109.32 L341.15,109.32 L341.30,109.32 L341.46,109.32 L341.62,109.32 L341.78,109.32 L341.94,109.32 L342.09,109.32 L342.25,109.32 L342.41,109.32 L342.57,109.32 L342.72,109.32 L342.88,109.32 L343.04,109.32 L343.20,109.32 L343.35,109.32 L343.51,109.32 L343.67,109.32 L343.83,109.32 L343.99,109.32 L344.14,109.32 L344.30,109.32 L344.46,109.32 L344.62,109.32 L344.77,109.32 L344.93,109.32 L345.09,109.32 L345.25,109.32 L345.40,109.32 L345.56,109.32 L345.72,109.32 L345.88,109.32 L346.04,109.32 L346.19,109.32 L346.35,109.32 L346.51,109.32 L346.67,109.32 L346.82,109.32 L346.98,109.32 L347.14,109.32 L347.30,109.32 L347.45,109.32 L347.61,109.32 L347.77,109.32 L347.93,109.32 L348.09,109.32 L348.24,109.32 L348.40,109.32 L348.56,109.32 L348.72,109.32 L348.87,109.32 L349.03,109.32 L349.19,109.32 L349.35,109.32 L349.50,109.32 L349.66,109.32 L349.82,109.32 L349.98,109.32 L350.14,109.32 L350.29,109.32 L350.45,109.32 L350.61,109.32 L350.77,109.32 L350.92,109.32 L351.08,109.32 L351.24,109.32 L351.40,109.32 L351.55,109.32 L351.71,109.32 L351.87,109.32 L352.03,109.32 L352.19,109.32 L352.34,109.32 L352.50,109.32 L352.66,109.32 L352.82,109.32 L352.97,109.32 L353.13,109.32 L353.29,109.32 L353.45,109.32 L353.61,109.32 L353.76,109.32 L353.92,109.32 L354.08,109.32 L354.24,109.32 M362.44,109.29 L362.59,109.29 L362.75,109.29 L362.91,109.29 L363.07,109.29 L363.22,109.29 L363.38,109.29 L363.54,109.29 L363.70,109.29 L363.86,109.29 L364.01,109.28 L364.17,109.28 L364.33,109.28 L364.49,109.28 L364.64,109.28 L364.80,109.28 L364.96,109.28 L365.12,109.28 L365.28,109.28 L365.43,109.28 L365.59,109.28 L365.75,109.28 L365.91,109.27 L366.06,109.27 L366.22,109.27 L366.38,109.27 L366.54,109.27 L366.69,109.27 L366.85,109.27 L367.01,109.27 L367.17,109.27 L367.33,109.27 L367.48,109.27 L367.64,109.26 L367.80,109.26 L367.96,109.26 L368.11,109.26 L368.27,109.26 L368.43,109.26 L368.59,109.26 L368.74,109.26 L368.90,109.26 L369.06,109.26 L369.22,109.26 L369.38,109.25 L369.53,109.25 L369.69,109.25 L369.85,109.25 L370.01,109.25 L370.16,109.25 L370.32,109.25 L370.48,109.25 L370.64,109.25 L370.79,109.24 L370.95,109.24 L371.11,109.24 L371.27,109.24 L371.43,109.24 L371.58,109.24 L371.74,109.24 L371.90,109.24 L372.06,109.24 L372.21,109.23 L372.37,109.23 L372.53,109.23 L372.69,109.23 L372.84,109.23 M380.89,109.15 L381.04,109.15 L381.20,109.15 L381.36,109.15 L381.52,109.15 L381.68,109.15 L381.83,109.14 L381.99,109.14 L382.15,109.14 L382.31,109.14 L382.46,109.14 L382.62,109.13 L382.78,109.13 L382.94,109.13 L383.09,109.13 L383.25,109.13 L383.41,109.13 L383.57,109.12 L383.73,109.12 L383.88,109.12 L384.04,109.12 L384.20,109.12 L384.36,109.11 L384.51,109.11 L384.67,109.11 L384.83,109.11 L384.99,109.11 L385.14,109.10 L385.30,109.10 L385.46,109.10 L385.62,109.10 L385.78,109.10 L385.93,109.09 L386.09,109.09 L386.25,109.09 L386.41,109.09 L386.56,109.09 L386.72,109.08 L386.88,109.08 L387.04,109.08 L387.19,109.08 L387.35,109.08 L387.51,109.07 L387.67,109.07 L387.83,109.07 L387.98,109.07 L388.14,109.06 L388.30,109.06 L388.46,109.06 L388.61,109.06 L388.77,109.06 L388.93,109.05 L389.09,109.05 L389.24,109.05 L389.40,109.05 L389.56,109.04 L389.72,109.04 L389.88,109.04 L390.03,109.04 L390.19,109.04 L390.35,109.03 L390.51,109.03 L390.66,109.03 L390.82,109.03 L390.98,109.02 L391.14,109.02 L391.29,109.02 M399.65,108.87 L399.81,108.87 L399.97,108.87 L400.12,108.87 L400.28,108.86 L400.44,108.86 L400.60,108.86 L400.76,108.85 L400.91,108.85 L401.07,108.85 L401.23,108.84 L401.39,108.84 L401.54,108.84 L401.70,108.83 L401.86,108.83 L402.02,108.83 L402.17,108.83 L402.33,108.82 L402.49,108.82 L402.65,108.82 L402.81,108.81 L402.96,108.81 L403.12,108.81 L403.28,108.80 L403.44,108.80 L403.59,108.80 L403.75,108.79 L403.91,108.79 L404.07,108.79 L404.22,108.78 L404.38,108.78 L404.54,108.78 L404.70,108.77 L404.85,108.77 L405.01,108.77 L405.17,108.76 L405.33,108.76 L405.49,108.75 L405.64,108.75 L405.80,108.75 L405.96,108.74 L406.12,108.74 L406.27,108.74 L406.43,108.73 L406.59,108.73 L406.75,108.73 L406.90,108.72 L407.06,108.72 L407.22,108.72 L407.38,108.71 L407.54,108.71 L407.69,108.70 L407.85,108.70 L408.01,108.70 L408.17,108.69 L408.32,108.69 L408.48,108.69 L408.64,108.68 L408.80,108.68 L408.95,108.68 L409.11,108.67 L409.27,108.67 L409.43,108.66 L409.58,108.66 L409.74,108.66" stroke="#000" stroke-width="1.45"/>
<path d="M49.60,4.60 L49.62,5.41 L49.65,6.23 L49.67,7.04 L49.70,7.86 L49.72,8.67 L49.75,9.49 L49.78,10.30 L49.81,11.12 L49.84,11.93 L49.87,12.74 L49.90,13.56 L49.94,14.37 L49.97,15.19 L50.00,16.00 L50.04,16.81 L50.08,17.63 L50.11,18.44 L50.15,19.25 L50.19,20.07 L50.23,20.88 L50.27,21.70 L50.31,22.51 L50.35,23.32 L50.39,24.14 L50.43,24.95 L50.47,25.76 L50.51,26.58 L50.56,27.39 L50.60,28.20 L50.65,29.02 L50.69,29.83 L50.74,30.64 L50.78,31.45 L50.83,32.27 L50.88,33.08 L50.93,33.89 L50.98,34.71 L51.03,35.52 L51.08,36.33 L51.14,37.15 L51.19,37.96 L51.25,38.77 L51.31,39.58 L51.36,40.40 L51.42,41.21 L51.48,42.02 L51.54,42.83 L51.61,43.65 L51.67,44.46 L51.73,45.27 L51.80,46.08 L51.86,46.90 L51.93,47.71 L52.00,48.52 L52.07,49.33 L52.14,50.14 L52.21,50.96 L52.28,51.77 L52.35,52.58 L52.42,53.39 L52.50,54.20 L52.57,55.01 L52.65,55.82 L52.72,56.64 L52.80,57.45 L52.88,58.26 L52.96,59.07 L53.04,59.88 L53.12,60.69 L53.20,61.50 L53.28,62.31 L53.37,63.12 L53.46,63.93 L53.55,64.74 L53.65,65.54 L53.75,66.35 L53.84,67.16 L53.95,67.97 L54.05,68.78 L54.16,69.59 L54.26,70.40 L54.37,71.20 L54.48,72.01 L54.59,72.82 L54.71,73.62 L54.82,74.43 L54.94,75.24 L55.06,76.04 L55.18,76.85 L55.30,77.65 L55.43,78.46 L55.56,79.26 L55.69,80.06 L55.83,80.87 L55.97,81.67 L56.11,82.47 L56.25,83.27 L56.39,84.08 L56.54,84.88 L56.68,85.68 L56.83,86.48 L56.97,87.28 L57.11,88.09 L57.26,88.89 L57.40,89.69 L57.53,90.49 L57.67,91.30 L57.80,92.10 L57.93,92.91 L58.05,93.72 L58.18,94.52 L58.31,95.33 L58.45,96.13 L58.59,96.94 L58.73,97.74 L58.89,98.54 L59.05,99.33 L59.23,100.12 L59.41,100.91 L59.61,101.70 L59.82,102.49 L60.04,103.28 L60.27,104.07 L60.51,104.85 L60.76,105.63 L61.03,106.41 L61.30,107.18 L61.58,107.95 L61.87,108.70 L62.17,109.45 L62.48,110.19 L62.82,110.92 L63.20,111.65 L63.59,112.36 L64.01,113.07 L64.43,113.77 L64.87,114.47 L65.30,115.16 L65.73,115.85 L66.17,116.54 L66.62,117.23 L67.08,117.91 L67.56,118.57 L68.05,119.22 L68.56,119.84 L69.09,120.44 L69.65,121.03 L70.22,121.62 L70.81,122.19 L71.42,122.74 L72.05,123.28 L72.68,123.80 L73.32,124.30 L73.97,124.78 L74.63,125.24 L75.31,125.71 L76.00,126.15 L76.71,126.58 L77.43,126.98 L78.16,127.34 L78.90,127.66 L79.65,127.95 L80.41,128.24 L81.20,128.52 L81.99,128.76 L82.79,128.95 L83.58,129.08 L84.38,129.13 L85.18,129.16 L85.99,129.19 L86.80,129.21 L87.61,129.23 L88.43,129.25 L89.25,129.26 L90.07,129.28 L90.89,129.29 L91.71,129.30 L92.53,129.32 L93.35,129.34 L94.16,129.37 L94.98,129.40 L95.79,129.44 L96.60,129.50 L97.42,129.56 L98.23,129.62 L99.04,129.68 L99.85,129.74 L100.67,129.80 L101.48,129.87 L102.29,129.94 L103.10,130.01 L103.91,130.08 L104.72,130.16 L105.53,130.24 L106.34,130.32 L107.15,130.40 L107.96,130.49 L108.77,130.57 L109.58,130.66 L110.39,130.76 L111.20,130.86 L112.01,130.96 L112.82,131.06 L113.63,131.17 L114.43,131.27 L115.24,131.39 L116.05,131.50 L116.85,131.62 L117.66,131.75 L118.46,131.87 L119.27,132.00 L120.07,132.13 L120.87,132.27 L121.67,132.41 L122.48,132.56 L123.28,132.71 L124.08,132.86 L124.88,133.01 L125.68,133.17 L126.47,133.34 L127.27,133.50 L128.07,133.68 L128.86,133.85 L129.66,134.03 L130.45,134.21 L131.25,134.40 L132.04,134.58 L132.83,134.78 L133.62,134.97 L134.41,135.17 L135.20,135.37 L135.99,135.57 L136.78,135.78 L137.56,135.99 L138.35,136.20 L139.14,136.42 L139.92,136.64 L140.70,136.86 L141.49,137.08 L142.27,137.31 L143.05,137.54 L143.83,137.77 L144.61,138.01 L145.39,138.24 L146.17,138.48 L146.95,138.72 L147.73,138.96 L148.50,139.21 L149.28,139.46 L150.05,139.71 L150.83,139.96 L151.60,140.21 L152.38,140.47 L153.15,140.72 L153.92,140.98 L154.69,141.24 L155.47,141.50 L156.24,141.77 L157.01,142.03 L157.78,142.30 L158.54,142.57 L159.31,142.84 L160.08,143.11 L160.85,143.39 L161.62,143.66 L162.38,143.94 L163.15,144.21 L163.91,144.49 L164.68,144.77 L165.44,145.05 L166.21,145.33 L166.97,145.61 L167.74,145.90 L168.50,146.18 L169.26,146.47 L170.02,146.76 L170.79,147.04 L171.55,147.33 L172.31,147.62 L173.07,147.91 L173.83,148.20 L174.59,148.49 L175.35,148.78 L176.11,149.07 L176.87,149.37 L177.63,149.66 L178.39,149.95 L179.15,150.25 L179.91,150.54 L180.67,150.84 L181.43,151.13 L182.19,151.43 L182.95,151.73 L183.71,152.03 L184.46,152.32 L185.22,152.62 L185.98,152.92 L186.74,153.22 L187.49,153.52 L188.25,153.82 L189.01,154.12 L189.76,154.43 L190.52,154.73 L191.28,155.03 L192.03,155.33 L192.79,155.64 L193.54,155.94 L194.30,156.25 L195.06,156.55 L195.81,156.86 L196.56,157.17 L197.32,157.47 L198.07,157.78 L198.83,158.09 L199.58,158.40 L200.34,158.70 L201.09,159.01 L201.84,159.32 L202.60,159.63 L203.35,159.94 L204.10,160.26 L204.85,160.57 L205.61,160.88 L206.36,161.19 L207.11,161.50 L207.86,161.82 L208.62,162.13 L209.37,162.45 L210.12,162.76 L210.87,163.07 L211.62,163.39 L212.37,163.71 L213.12,164.02 L213.87,164.34 L214.62,164.66 L215.37,164.97 L216.12,165.29 L216.87,165.61 L217.62,165.93 L218.37,166.25 L219.12,166.57 L219.87,166.89 L220.62,167.21 L221.37,167.53 L222.12,167.85 L222.86,168.17 L223.61,168.49 L224.36,168.82 L225.11,169.14 L225.86,169.46 L226.60,169.78 L227.35,170.11 L228.10,170.43 L228.85,170.76 L229.59,171.08 L230.34,171.41 L231.09,171.73 L231.83,172.06 L232.58,172.38 L233.33,172.71 L234.07,173.04 L234.82,173.36 L235.56,173.69 L236.31,174.02 L237.06,174.35 L237.80,174.68 L238.55,175.00 L239.29,175.33 L240.04,175.66 L240.78,175.99 L241.53,176.32 L242.27,176.65 L243.02,176.98 L243.76,177.32 L244.50,177.65 L245.25,177.98 L245.99,178.31 L246.74,178.64 L247.48,178.97 L248.22,179.31 L248.97,179.64 L249.71,179.97 L250.45,180.31 L251.20,180.64 L251.94,180.98 L252.68,181.31 L253.42,181.64 L254.17,181.98 L254.91,182.31 L255.65,182.65 L256.39,182.99 L257.14,183.32 L257.88,183.66 L258.62,183.99 L259.36,184.33 L260.10,184.67 L260.84,185.01 L261.59,185.34 L262.33,185.68 L263.07,186.02 L263.81,186.36 L264.55,186.70 L265.29,187.03 L266.03,187.37 L266.77,187.71 L267.51,188.05 L268.25,188.39 L268.99,188.73 L269.73,189.07 L270.47,189.41 L271.21,189.75 L271.95,190.09 L272.69,190.43 L273.43,190.77 L274.17,191.11 L274.91,191.46 L275.65,191.80 L276.39,192.14 L277.13,192.48 L277.87,192.82 L278.61,193.17 L279.35,193.51 L280.09,193.85 L280.83,194.19 L281.57,194.54 L282.30,194.88 L283.04,195.22 L283.78,195.57 L284.52,195.91 L285.26,196.25 L286.00,196.60 L286.73,196.94 L287.47,197.29 L288.21,197.63 L288.95,197.97 L289.69,198.32 L290.43,198.66 L291.16,199.01 L291.90,199.35 L292.64,199.70 L293.38,200.04 L294.11,200.39 L294.85,200.74 L295.59,201.08 L296.33,201.43 L297.06,201.77 L297.80,202.12 L298.54,202.47 L299.28,202.81 L300.01,203.16 L300.75,203.51 L301.49,203.85 L302.23,204.20 L302.96,204.55 L303.70,204.89 L304.44,205.24 L305.17,205.59 L305.91,205.93 L306.65,206.28 L307.38,206.63 L308.12,206.98 L308.86,207.32 L309.59,207.67 L310.33,208.02 L311.07,208.37 L311.80,208.72 L312.54,209.06 L313.28,209.41 L314.01,209.76 L314.75,210.11 L315.49,210.46 L316.22,210.80 L316.96,211.15 L317.69,211.50 L318.43,211.85 L319.17,212.20 L319.90,212.55 L320.64,212.90 L321.38,213.24 L322.11,213.59 L322.85,213.94 L323.58,214.29 L324.32,214.64 L325.06,214.99 L325.79,215.34 L326.53,215.69 L327.26,216.04 L328.00,216.38 L328.74,216.73 L329.47,217.08 L330.21,217.43 L330.94,217.78 L331.68,218.13 L332.42,218.48 L333.15,218.83 L333.89,219.18 L334.62,219.53 L335.36,219.87 L336.10,220.22 L336.83,220.57 L337.57,220.92 L338.30,221.27 L339.04,221.62 L339.78,221.97 L340.51,222.32 L341.25,222.67 L341.98,223.01 L342.72,223.36 L343.46,223.71 L344.19,224.06 L344.93,224.41 L345.67,224.76 L346.40,225.11 L347.14,225.46 L347.87,225.80 L348.61,226.15 L349.35,226.50 L350.08,226.85 L350.82,227.20 L351.56,227.55 L352.29,227.90 L353.03,228.24 L353.76,228.59 L354.50,228.94 L355.24,229.29 L355.97,229.64 L356.71,229.98 L357.45,230.33 L358.18,230.68 L358.92,231.03 L359.66,231.38 L360.39,231.72 L361.13,232.07 L361.87,232.42 L362.60,232.76 L363.34,233.11 L364.08,233.46 L364.81,233.81 L365.55,234.15 L366.29,234.50 L367.03,234.85 L367.76,235.19 L368.50,235.54 L369.24,235.89 L369.98,236.23 L370.71,236.58 L371.45,236.92 L372.19,237.27 L372.92,237.62 L373.66,237.96 L374.40,238.31 L375.14,238.65 L375.88,239.00 L376.61,239.34 L377.35,239.69 L378.09,240.03 L378.83,240.38 L379.57,240.72 L380.30,241.07 L381.04,241.41 L381.78,241.75 L382.52,242.10 L383.26,242.44 L384.00,242.79 L384.73,243.13 L385.47,243.47 L386.21,243.82 L386.95,244.16 L387.69,244.50 L388.43,244.84 L389.17,245.19 L389.91,245.53 L390.65,245.87 L391.39,246.21 L392.12,246.56 L392.86,246.90 L393.60,247.24 L394.34,247.58 L395.08,247.92 L395.82,248.26 L396.56,248.60 L397.30,248.94 L398.04,249.28 L398.78,249.62 L399.52,249.96 L400.26,250.30 L401.01,250.64 L401.75,250.98 L402.49,251.32 L403.23,251.66 L403.97,252.00 L404.71,252.33 L405.45,252.67 L406.19,253.01 L406.93,253.35 L407.67,253.68 L408.42,254.02 L409.16,254.36 L409.90,254.69" stroke="#00ff00" stroke-width="1.45"/>
<path d="M55.32,92.12 L55.35,92.28 L55.39,92.43 L55.42,92.59 L55.46,92.75 L55.50,92.91 L55.55,93.07 L55.60,93.22 L55.65,93.38 L55.70,93.54 L55.75,93.69 L55.80,93.85 L55.85,94.00 L55.91,94.16 L55.96,94.32 L56.02,94.47 L56.08,94.63 L56.13,94.79 L56.19,94.94 L56.24,95.10 L56.29,95.25 L56.35,95.41 L56.40,95.57 L56.45,95.72 L56.49,95.88 L56.54,96.04 L56.58,96.20 L56.62,96.36 L56.66,96.52 L56.69,96.67 M57.93,104.95 L57.96,105.11 L58.00,105.27 L58.03,105.43 L58.07,105.58 L58.11,105.74 L58.15,105.90 L58.19,106.06 L58.23,106.22 L58.27,106.38 L58.31,106.54 L58.35,106.69 L58.39,106.85 L58.44,107.01 L58.48,107.17 L58.53,107.33 L58.57,107.49 L58.62,107.64 L58.67,107.80 L58.71,107.96 L58.76,108.12 L58.81,108.27 L58.86,108.43 L58.91,108.59 L58.96,108.74 L59.01,108.90 L59.07,109.06 L59.12,109.21 L59.17,109.37 L59.23,109.53 L59.28,109.68 L59.33,109.84 L59.39,109.99 L59.44,110.15 L59.50,110.31 L59.55,110.46 L59.61,110.62 L59.67,110.77 L59.72,110.93 L59.78,111.08 L59.84,111.24 L59.89,111.39 L59.95,111.54 L60.01,111.70 L60.07,111.85 L60.13,112.01 L60.18,112.16 L60.24,112.31 L60.30,112.47 L60.36,112.62 L60.42,112.77 L60.48,112.93 L60.54,113.08 L60.60,113.23 L60.65,113.38 M64.87,122.08 L64.96,122.20 L65.06,122.32 L65.16,122.43 L65.27,122.55 L65.37,122.66 L65.48,122.78 L65.59,122.89 L65.70,123.01 L65.82,123.12 L65.93,123.23 L66.05,123.34 L66.17,123.45 L66.29,123.57 L66.42,123.68 L66.54,123.79 L66.67,123.89 L66.80,124.00 L66.93,124.11 L67.06,124.22 L67.19,124.32 L67.33,124.43 L67.46,124.53 L67.60,124.63 L67.73,124.74 L67.87,124.84 L68.01,124.94 L68.15,125.04 L68.29,125.13 L68.44,125.23 L68.58,125.33 L68.72,125.42 L68.87,125.51 L69.01,125.61 L69.16,125.70 L69.30,125.79 L69.45,125.87 L69.59,125.96 L69.74,126.05 L69.89,126.13 L70.03,126.21 L70.18,126.29 L70.33,126.37 L70.47,126.45 L70.62,126.53 L70.77,126.60 L70.91,126.68 L71.06,126.75 L71.21,126.82 L71.35,126.89 L71.49,126.95 M84.85,130.23 L85.01,130.27 L85.16,130.31 L85.32,130.35 L85.48,130.38 L85.64,130.42 L85.80,130.46 L85.96,130.50 L86.12,130.54 L86.28,130.59 L86.44,130.63 L86.59,130.67 L86.75,130.71 L86.91,130.76 L87.07,130.80 L87.23,130.85 L87.39,130.89 L87.54,130.94 L87.70,130.99 L87.86,131.03 L88.02,131.08 L88.18,131.13 L88.33,131.18 L88.49,131.23 L88.65,131.28 L88.80,131.33 L88.96,131.38 L89.12,131.43 L89.27,131.48 L89.43,131.53 L89.59,131.58 L89.74,131.63 L89.90,131.68 L90.05,131.74 L90.21,131.79 L90.36,131.84 L90.52,131.90 L90.67,131.95 L90.83,132.00 L90.98,132.06 L91.14,132.11 M98.93,135.58 L99.08,135.65 L99.23,135.72 L99.37,135.79 L99.52,135.86 L99.67,135.93 L99.82,136.00 L99.97,136.08 L100.11,136.15 L100.26,136.22 L100.41,136.29 L100.55,136.37 L100.70,136.44 L100.85,136.51 L101.00,136.58 L101.14,136.66 L101.29,136.73 L101.44,136.80 L101.58,136.88 L101.73,136.95 L101.88,137.03 L102.02,137.10 L102.17,137.17 L102.31,137.25 L102.46,137.32 L102.61,137.40 L102.75,137.47 L102.90,137.55 L103.05,137.62 L103.19,137.70 L103.34,137.77 L103.48,137.85 L103.63,137.92 L103.77,138.00 L103.92,138.07 L104.07,138.15 L104.21,138.22 L104.36,138.30 L104.50,138.38 L104.65,138.45 L104.79,138.53 L104.94,138.60 L105.08,138.68 L105.23,138.76 L105.37,138.83 L105.52,138.91 L105.66,138.99 L105.81,139.06 L105.95,139.14 L106.10,139.22 L106.24,139.30 L106.39,139.37 L106.53,139.45 L106.68,139.53 L106.82,139.61 L106.96,139.69 L107.11,139.76 L107.25,139.84 L107.40,139.92 M114.41,143.86 L114.55,143.94 L114.69,144.02 L114.83,144.10 L114.97,144.19 L115.12,144.27 L115.26,144.35 L115.40,144.43 L115.54,144.52 L115.68,144.60 L115.83,144.68 L115.97,144.76 L116.11,144.85 L116.25,144.93 L116.39,145.01 L116.53,145.10 L116.67,145.18 L116.82,145.26 L116.96,145.35 L117.10,145.43 L117.24,145.51 L117.38,145.60 L117.52,145.68 L117.66,145.76 L117.81,145.85 L117.95,145.93 L118.09,146.01 L118.23,146.10 L118.37,146.18 L118.51,146.26 L118.65,146.35 L118.79,146.43 L118.93,146.51 L119.08,146.60 L119.22,146.68 L119.36,146.77 L119.50,146.85 L119.64,146.93 L119.78,147.02 L119.92,147.10 L120.06,147.19 L120.20,147.27 L120.34,147.36 L120.48,147.44 L120.63,147.52 L120.77,147.61 L120.91,147.69 L121.05,147.78 L121.19,147.86 L121.33,147.95 L121.47,148.03 L121.61,148.11 L121.75,148.20 L121.89,148.28 L122.03,148.37 L122.17,148.45 L122.31,148.54 L122.45,148.62 L122.59,148.71 L122.73,148.79 L122.87,148.88 M129.75,153.05 L129.89,153.14 L130.03,153.22 L130.17,153.31 L130.31,153.39 L130.45,153.48 L130.59,153.56 L130.73,153.65 L130.87,153.74 L131.01,153.82 L131.15,153.91 L131.29,153.99 L131.43,154.08 L131.57,154.16 L131.71,154.25 L131.85,154.33 L131.99,154.42 L132.13,154.50 L132.27,154.59 L132.41,154.67 L132.55,154.76 L132.69,154.84 L132.83,154.93 L132.97,155.01 L133.11,155.10 L133.25,155.18 L133.39,155.27 L133.53,155.36 L133.67,155.44 L133.81,155.53 L133.95,155.61 L134.09,155.70 L134.23,155.78 L134.37,155.87 L134.51,155.95 L134.65,156.04 L134.79,156.12 L134.93,156.21 L135.07,156.29 L135.21,156.38 L135.35,156.46 L135.49,156.54 L135.64,156.63 L135.78,156.71 L135.92,156.80 L136.06,156.88 L136.20,156.97 L136.34,157.05 L136.48,157.14 L136.62,157.22 L136.76,157.31 L136.90,157.39 L137.04,157.48 L137.18,157.56 L137.32,157.64 L137.46,157.73 L137.60,157.81 L137.74,157.90 L137.88,157.98 L138.03,158.07 L138.17,158.15 L138.31,158.24 M145.53,162.47 L145.67,162.55 L145.81,162.63 L145.95,162.71 L146.10,162.79 L146.24,162.87 L146.38,162.95 L146.52,163.03 L146.67,163.12 L146.81,163.20 L146.95,163.28 L147.10,163.36 L147.24,163.44 L147.38,163.52 L147.52,163.60 L147.67,163.68 L147.81,163.76 L147.95,163.84 L148.10,163.92 L148.24,164.00 L148.38,164.08 L148.53,164.16 L148.67,164.24 L148.81,164.32 L148.96,164.40 L149.10,164.48 L149.24,164.56 L149.39,164.64 L149.53,164.72 L149.67,164.80 L149.82,164.88 L149.96,164.95 L150.11,165.03 L150.25,165.11 L150.39,165.19 L150.54,165.27 L150.68,165.35 L150.83,165.43 L150.97,165.50 L151.11,165.58 L151.26,165.66 L151.40,165.74 L151.55,165.82 L151.69,165.89 L151.84,165.97 L151.98,166.05 L152.13,166.13 L152.27,166.21 L152.42,166.28 L152.56,166.36 L152.70,166.44 L152.85,166.51 L152.99,166.59 L153.14,166.67 L153.28,166.74 L153.43,166.82 L153.58,166.90 L153.72,166.97 L153.87,167.05 L154.01,167.13 L154.16,167.20 M162.10,171.13 L162.25,171.20 L162.40,171.26 L162.55,171.33 L162.69,171.40 L162.84,171.47 L162.99,171.54 L163.14,171.61 L163.29,171.68 L163.44,171.75 L163.59,171.81 L163.74,171.88 L163.89,171.95 L164.04,172.02 L164.19,172.09 L164.34,172.15 L164.49,172.22 L164.64,172.29 L164.78,172.35 L164.93,172.42 L165.08,172.49 L165.23,172.56 L165.38,172.62 L165.53,172.69 L165.68,172.76 L165.83,172.82 L165.98,172.89 L166.13,172.95 L166.28,173.02 L166.44,173.09 L166.59,173.15 L166.74,173.22 L166.89,173.28 L167.04,173.35 L167.19,173.41 L167.34,173.48 L167.49,173.54 L167.64,173.61 L167.79,173.67 L167.94,173.74 L168.09,173.80 L168.24,173.87 L168.39,173.93 L168.55,173.99 L168.70,174.06 L168.85,174.12 L169.00,174.18 L169.15,174.25 L169.30,174.31 L169.45,174.37 L169.60,174.44 L169.76,174.50 L169.91,174.56 L170.06,174.63 L170.21,174.69 L170.36,174.75 L170.51,174.81 L170.67,174.88 L170.82,174.94 L170.97,175.00 L171.12,175.06 L171.27,175.12 L171.43,175.18 L171.58,175.25 L171.73,175.31 L171.88,175.37 L172.03,175.43 L172.19,175.49 L172.34,175.55 L172.49,175.61 L172.64,175.67 L172.80,175.73 L172.95,175.79 L173.10,175.85 L173.26,175.91 L173.41,175.97 L173.56,176.03 L173.71,176.09 L173.87,176.15 L174.02,176.21 L174.17,176.27 L174.33,176.33 L174.48,176.39 L174.63,176.45 L174.79,176.50 L174.94,176.56 L175.09,176.62 L175.25,176.68 L175.40,176.74 L175.55,176.80 L175.71,176.85 L175.86,176.91 L176.01,176.97 L176.17,177.03 L176.32,177.08 L176.47,177.14 L176.63,177.20 L176.78,177.25 L176.94,177.31 L177.09,177.37 L177.24,177.42 L177.40,177.48 L177.55,177.54 L177.71,177.59 L177.86,177.65 L178.02,177.70 L178.17,177.76 L178.32,177.82 L178.48,177.87 L178.63,177.93 L178.79,177.98 L178.94,178.04 L179.10,178.09 L179.25,178.15 L179.41,178.20 L179.56,178.26 L179.72,178.31 L179.87,178.36 L180.03,178.42 L180.18,178.47 L180.34,178.53 L180.49,178.58 L180.65,178.63 L180.80,178.69 L180.96,178.74 L181.11,178.79 L181.27,178.84 L181.42,178.90 L181.58,178.95 L181.73,179.00 L181.89,179.05 M189.88,181.54 L190.04,181.59 L190.19,181.63 L190.35,181.68 L190.51,181.72 L190.67,181.77 L190.82,181.81 L190.98,181.85 L191.14,181.90 L191.30,181.94 L191.46,181.99 L191.62,182.03 L191.77,182.07 L191.93,182.12 L192.09,182.16 L192.25,182.20 L192.41,182.25 L192.56,182.29 L192.72,182.33 L192.88,182.37 L193.04,182.42 L193.20,182.46 L193.36,182.50 L193.52,182.54 L193.67,182.58 L193.83,182.63 L193.99,182.67 L194.15,182.71 L194.31,182.75 L194.47,182.79 L194.63,182.83 L194.79,182.87 L194.95,182.91 L195.10,182.95 L195.26,183.00 L195.42,183.04 L195.58,183.08 L195.74,183.12 L195.90,183.16 L196.06,183.20 L196.22,183.23 L196.38,183.27 L196.54,183.31 L196.70,183.35 L196.86,183.39 L197.01,183.43 L197.17,183.47 L197.33,183.51 L197.49,183.55 L197.65,183.58 L197.81,183.62 L197.97,183.66 L198.13,183.70 L198.29,183.74 L198.45,183.77 L198.61,183.81 L198.77,183.85 L198.93,183.89 L199.09,183.92 L199.25,183.96 L199.41,184.00 L199.57,184.03 L199.73,184.07 L199.89,184.10 L200.05,184.14 L200.21,184.18 L200.37,184.21 L200.53,184.25 L200.69,184.28 M209.38,185.99 L209.55,186.02 L209.71,186.05 L209.87,186.07 L210.03,186.10 L210.19,186.13 L210.35,186.15 L210.52,186.18 L210.68,186.21 L210.84,186.23 L211.00,186.26 L211.16,186.29 L211.33,186.31 L211.49,186.34 L211.65,186.36 L211.81,186.39 L211.97,186.42 L212.14,186.44 L212.30,186.47 L212.46,186.49 L212.62,186.52 L212.79,186.54 L212.95,186.56 L213.11,186.59 L213.27,186.61 L213.43,186.64 L213.60,186.66 L213.76,186.69 L213.92,186.71 L214.08,186.73 L214.25,186.76 L214.41,186.78 L214.57,186.80 L214.73,186.83 L214.90,186.85 L215.06,186.87 L215.22,186.89 L215.38,186.92 L215.55,186.94 L215.71,186.96 L215.87,186.98 L216.03,187.01 L216.20,187.03 L216.36,187.05 L216.52,187.07 L216.68,187.09 L216.85,187.11 L217.01,187.13 L217.17,187.16 L217.34,187.18 L217.50,187.20 L217.66,187.22 L217.82,187.24 L217.99,187.26 L218.15,187.28 L218.31,187.30 L218.47,187.32 L218.64,187.34 L218.80,187.36 L218.96,187.38 L219.13,187.40 L219.29,187.41 L219.45,187.43 L219.62,187.45 L219.78,187.47 L219.94,187.49 M227.46,188.19 L227.62,188.20 L227.78,188.21 L227.95,188.22 L228.11,188.23 L228.27,188.25 L228.44,188.26 L228.60,188.27 L228.77,188.28 L228.93,188.29 L229.09,188.30 L229.26,188.31 L229.42,188.32 L229.58,188.33 L229.75,188.34 L229.91,188.35 L230.08,188.36 L230.24,188.37 L230.40,188.38 L230.57,188.39 L230.73,188.40 L230.89,188.41 L231.06,188.42 L231.22,188.43 L231.39,188.44 L231.55,188.44 L231.71,188.45 L231.88,188.46 L232.04,188.47 L232.21,188.48 L232.37,188.49 L232.53,188.49 L232.70,188.50 L232.86,188.51 L233.02,188.52 L233.19,188.52 L233.35,188.53 L233.52,188.54 L233.68,188.54 L233.84,188.55 L234.01,188.56 L234.17,188.56 L234.34,188.57 L234.50,188.58 L234.66,188.58 L234.83,188.59 L234.99,188.59 L235.16,188.60 L235.32,188.61 L235.48,188.61 L235.65,188.62 L235.81,188.62 L235.98,188.63 L236.14,188.63 L236.30,188.64 L236.47,188.64 L236.63,188.64 L236.80,188.65 L236.96,188.65 L237.12,188.66 L237.29,188.66 L237.45,188.67 L237.62,188.67 L237.78,188.67 L237.94,188.68 L238.11,188.68 M246.64,188.67 L246.80,188.66 L246.97,188.66 L247.13,188.66 L247.30,188.65 L247.46,188.65 L247.62,188.64 L247.79,188.64 L247.95,188.63 L248.12,188.63 L248.28,188.62 L248.44,188.62 L248.61,188.61 L248.77,188.61 L248.94,188.60 L249.10,188.60 L249.26,188.59 L249.43,188.59 L249.59,188.58 L249.76,188.58 L249.92,188.57 L250.08,188.56 L250.25,188.56 L250.41,188.55 L250.58,188.54 L250.74,188.54 L250.90,188.53 L251.07,188.52 L251.23,188.52 L251.40,188.51 L251.56,188.50 L251.72,188.49 L251.89,188.49 L252.05,188.48 L252.21,188.47 L252.38,188.46 L252.54,188.46 L252.71,188.45 L252.87,188.44 L253.03,188.43 L253.20,188.42 L253.36,188.41 L253.53,188.41 L253.69,188.40 L253.85,188.39 L254.02,188.38 L254.18,188.37 L254.34,188.36 L254.51,188.35 L254.67,188.34 L254.84,188.33 L255.00,188.32 L255.16,188.31 L255.33,188.30 L255.49,188.29 L255.65,188.28 L255.82,188.27 L255.98,188.26 L256.15,188.25 M264.81,187.51 L264.97,187.50 L265.14,187.48 L265.30,187.46 L265.46,187.44 L265.63,187.43 L265.79,187.41 L265.95,187.39 L266.12,187.37 L266.28,187.36 L266.44,187.34 L266.60,187.32 L266.77,187.30 L266.93,187.28 L267.09,187.26 L267.26,187.25 L267.42,187.23 L267.58,187.21 L267.75,187.19 L267.91,187.17 L268.07,187.15 L268.23,187.13 L268.40,187.11 L268.56,187.09 L268.72,187.07 L268.89,187.05 L269.05,187.03 L269.21,187.01 L269.37,186.99 L269.54,186.97 L269.70,186.95 L269.86,186.93 L270.03,186.91 L270.19,186.89 L270.35,186.87 L270.51,186.85 L270.68,186.83 L270.84,186.81 L271.00,186.78 L271.16,186.76 L271.33,186.74 L271.49,186.72 L271.65,186.70 L271.82,186.68 L271.98,186.65 L272.14,186.63 L272.30,186.61 L272.47,186.59 L272.63,186.56 L272.79,186.54 L272.95,186.52 L273.12,186.50 L273.28,186.47 L273.44,186.45 L273.60,186.43 L273.77,186.40 L273.93,186.38 L274.09,186.36 L274.25,186.33 M282.83,184.93 L283.00,184.90 L283.16,184.87 L283.32,184.84 L283.48,184.81 L283.64,184.78 L283.80,184.75 L283.96,184.72 L284.12,184.69 L284.29,184.66 L284.45,184.63 L284.61,184.60 L284.77,184.57 L284.93,184.54 L285.09,184.50 L285.25,184.47 L285.41,184.44 L285.57,184.41 L285.74,184.38 L285.90,184.35 L286.06,184.32 L286.22,184.28 L286.38,184.25 L286.54,184.22 L286.70,184.19 L286.86,184.16 L287.02,184.13 L287.18,184.09 L287.35,184.06 L287.51,184.03 L287.67,184.00 L287.83,183.96 L287.99,183.93 L288.15,183.90 L288.31,183.86 L288.47,183.83 L288.63,183.80 L288.79,183.76 L288.95,183.73 L289.11,183.70 L289.27,183.66 L289.43,183.63 L289.59,183.60 L289.76,183.56 L289.92,183.53 L290.08,183.49 L290.24,183.46 L290.40,183.43 L290.56,183.39 L290.72,183.36 L290.88,183.32 L291.04,183.29 L291.20,183.25 L291.36,183.22 L291.52,183.18 L291.68,183.15 L291.84,183.11 L292.00,183.08 L292.16,183.04 L292.32,183.00 L292.48,182.97 L292.64,182.93 L292.80,182.90 L292.96,182.86 L293.12,182.83 L293.28,182.79 L293.44,182.75 L293.60,182.72 L293.76,182.68 L293.92,182.64 L294.08,182.61 L294.24,182.57 L294.40,182.53 L294.56,182.50 L294.72,182.46 L294.88,182.42 L295.04,182.38 L295.20,182.35 L295.36,182.31 L295.52,182.27 L295.68,182.23 L295.84,182.20 L296.00,182.16 L296.16,182.12 L296.32,182.08 L296.48,182.04 L296.64,182.00 L296.80,181.97 L296.96,181.93 L297.11,181.89 L297.27,181.85 L297.43,181.81 L297.59,181.77 L297.75,181.73 L297.91,181.69 L298.07,181.66 L298.23,181.62 L298.39,181.58 L298.55,181.54 L298.71,181.50 L298.87,181.46 M306.48,179.43 L306.64,179.39 L306.79,179.35 L306.95,179.30 L307.11,179.26 L307.27,179.21 L307.43,179.17 L307.58,179.12 L307.74,179.08 L307.90,179.03 L308.06,178.99 L308.21,178.94 L308.37,178.89 L308.53,178.85 L308.69,178.80 L308.84,178.76 L309.00,178.71 L309.16,178.67 L309.32,178.62 L309.47,178.57 L309.63,178.53 L309.79,178.48 L309.95,178.43 L310.10,178.39 L310.26,178.34 L310.42,178.29 L310.58,178.25 L310.73,178.20 L310.89,178.15 L311.05,178.11 L311.20,178.06 L311.36,178.01 L311.52,177.96 L311.68,177.92 L311.83,177.87 L311.99,177.82 L312.15,177.77 L312.30,177.73 L312.46,177.68 L312.62,177.63 L312.77,177.58 L312.93,177.53 L313.09,177.49 L313.24,177.44 L313.40,177.39 L313.56,177.34 L313.71,177.29 L313.87,177.24 L314.03,177.19 L314.18,177.14 L314.34,177.10 L314.50,177.05 L314.65,177.00 L314.81,176.95 L314.97,176.90 L315.12,176.85 L315.28,176.80 L315.44,176.75 L315.59,176.70 L315.75,176.65 L315.91,176.60 L316.06,176.55 L316.22,176.50 M324.46,173.72 L324.61,173.67 L324.77,173.61 L324.92,173.56 L325.08,173.50 L325.23,173.45 L325.38,173.39 L325.54,173.33 L325.69,173.28 L325.85,173.22 L326.00,173.17 L326.16,173.11 L326.31,173.06 L326.47,173.00 L326.62,172.95 L326.77,172.89 L326.93,172.83 L327.08,172.78 L327.24,172.72 L327.39,172.66 L327.54,172.61 L327.70,172.55 L327.85,172.50 L328.01,172.44 L328.16,172.38 L328.31,172.33 L328.47,172.27 L328.62,172.21 L328.78,172.15 L328.93,172.10 L329.08,172.04 L329.24,171.98 L329.39,171.93 L329.54,171.87 L329.70,171.81 L329.85,171.75 L330.01,171.70 L330.16,171.64 L330.31,171.58 L330.47,171.52 L330.62,171.46 L330.77,171.41 L330.93,171.35 L331.08,171.29 L331.23,171.23 L331.39,171.17 L331.54,171.11 L331.69,171.06 L331.85,171.00 L332.00,170.94 L332.15,170.88 L332.31,170.82 L332.46,170.76 L332.61,170.70 L332.77,170.64 L332.92,170.58 L333.07,170.52 L333.22,170.47 M341.14,167.27 L341.29,167.21 L341.44,167.15 L341.59,167.08 L341.74,167.02 L341.89,166.95 L342.04,166.89 L342.19,166.83 L342.35,166.76 L342.50,166.70 L342.65,166.63 L342.80,166.57 L342.95,166.51 L343.10,166.44 L343.25,166.38 L343.40,166.31 L343.55,166.25 L343.70,166.18 L343.85,166.12 L344.01,166.05 L344.16,165.99 L344.31,165.92 L344.46,165.86 L344.61,165.79 L344.76,165.73 L344.91,165.66 L345.06,165.60 L345.21,165.53 L345.36,165.47 L345.51,165.40 L345.66,165.34 L345.81,165.27 L345.96,165.21 L346.11,165.14 L346.26,165.07 L346.41,165.01 L346.56,164.94 L346.71,164.88 L346.86,164.81 L347.01,164.74 L347.16,164.68 L347.31,164.61 L347.46,164.54 L347.61,164.48 L347.76,164.41 L347.91,164.34 L348.06,164.28 L348.21,164.21 L348.36,164.14 L348.51,164.08 L348.66,164.01 L348.81,163.94 L348.96,163.88 L349.11,163.81 L349.26,163.74 L349.41,163.67 L349.56,163.61 L349.71,163.54 L349.86,163.47 L350.01,163.40 L350.16,163.34 L350.31,163.27 L350.46,163.20 L350.61,163.13 M353.14,161.97 L353.29,161.90 L353.44,161.83 L353.59,161.76 L353.74,161.69 L353.89,161.62 L354.03,161.55 L354.18,161.48 L354.33,161.41 L354.48,161.34 L354.63,161.27 L354.78,161.20 L354.92,161.13 L355.07,161.06 L355.22,160.99 L355.37,160.92 L355.52,160.85 L355.67,160.78 L355.81,160.71 L355.96,160.64 L356.11,160.57 L356.26,160.50 L356.41,160.43 L356.56,160.36 L356.70,160.29 L356.85,160.22 L357.00,160.15 L357.15,160.08 L357.30,160.01 L357.44,159.94 L357.59,159.86 L357.74,159.79 L357.89,159.72 L358.03,159.65 L358.18,159.58 L358.33,159.51 L358.48,159.44 L358.63,159.36 L358.77,159.29 L358.92,159.22 L359.07,159.15 L359.22,159.08 L359.36,159.01 L359.51,158.93 L359.66,158.86 L359.81,158.79 L359.95,158.72 L360.10,158.65 L360.25,158.57 L360.40,158.50 L360.54,158.43 L360.69,158.36 L360.84,158.28 L360.98,158.21 L361.13,158.14 L361.28,158.07 L361.43,157.99 L361.57,157.92 L361.72,157.85 L361.87,157.77 L362.01,157.70 L362.16,157.63 L362.31,157.55 L362.45,157.48 M369.61,153.82 L369.75,153.74 L369.90,153.66 L370.04,153.59 L370.19,153.51 L370.34,153.44 L370.48,153.36 L370.63,153.28 L370.77,153.21 L370.92,153.13 L371.06,153.05 L371.21,152.97 L371.35,152.90 L371.50,152.82 L371.64,152.74 L371.78,152.67 L371.93,152.59 L372.07,152.51 L372.22,152.43 L372.36,152.36 L372.51,152.28 L372.65,152.20 L372.80,152.12 L372.94,152.05 L373.09,151.97 L373.23,151.89 L373.38,151.81 L373.52,151.74 L373.66,151.66 L373.81,151.58 L373.95,151.50 L374.10,151.42 L374.24,151.35 L374.39,151.27 L374.53,151.19 L374.67,151.11 L374.82,151.03 L374.96,150.95 L375.11,150.88 L375.25,150.80 L375.39,150.72 L375.54,150.64 L375.68,150.56 L375.83,150.48 L375.97,150.40 L376.11,150.33 L376.26,150.25 L376.40,150.17 L376.55,150.09 L376.69,150.01 L376.83,149.93 L376.98,149.85 L377.12,149.77 L377.26,149.69 L377.41,149.61 L377.55,149.53 L377.69,149.45 L377.84,149.37 L377.98,149.29 L378.13,149.21 M384.12,145.82 L384.26,145.74 L384.41,145.66 L384.55,145.57 L384.69,145.49 L384.83,145.41 L384.97,145.33 L385.12,145.24 L385.26,145.16 L385.40,145.08 L385.54,145.00 L385.68,144.91 L385.82,144.83 L385.97,144.75 L386.11,144.67 L386.25,144.58 L386.39,144.50 L386.53,144.42 L386.67,144.33 L386.82,144.25 L386.96,144.17 L387.10,144.09 L387.24,144.00 L387.38,143.92 L387.52,143.84 L387.67,143.75 L387.81,143.67 L387.95,143.59 L388.09,143.50 L388.23,143.42 L388.37,143.34 L388.51,143.25 L388.65,143.17 L388.80,143.08 L388.94,143.00 L389.08,142.92 L389.22,142.83 L389.36,142.75 L389.50,142.67 L389.64,142.58 L389.78,142.50 L389.92,142.41 L390.06,142.33 L390.20,142.25 L390.35,142.16 L390.49,142.08 L390.63,141.99 L390.77,141.91 L390.91,141.82 L391.05,141.74 L391.19,141.65 L391.33,141.57 L391.47,141.49 L391.61,141.40 L391.75,141.32 L391.89,141.23 L392.03,141.15 L392.17,141.06 L392.31,140.98 L392.45,140.89 L392.59,140.81 L392.73,140.72 L392.87,140.64 L393.01,140.55 L393.16,140.47 L393.30,140.38 M401.37,135.35 L401.51,135.26 L401.65,135.17 L401.79,135.09 L401.93,135.00 L402.07,134.91 L402.20,134.82 L402.34,134.73 L402.48,134.64 L402.62,134.56 L402.76,134.47 L402.89,134.38 L403.03,134.29 L403.17,134.20 L403.31,134.11 L403.45,134.02 L403.58,133.94 L403.72,133.85 L403.86,133.76 L404.00,133.67 L404.14,133.58 L404.27,133.49 L404.41,133.40 L404.55,133.31 L404.69,133.22 L404.83,133.13 L404.96,133.05 L405.10,132.96 L405.24,132.87 L405.38,132.78 L405.51,132.69 L405.65,132.60 L405.79,132.51 L405.93,132.42 L406.06,132.33 L406.20,132.24 L406.34,132.15 L406.48,132.06 L406.61,131.97 L406.75,131.88 L406.89,131.79 L407.02,131.70 L407.16,131.61 L407.30,131.52 L407.44,131.43 L407.57,131.34 L407.71,131.25 L407.85,131.16 L407.98,131.07 L408.12,130.98 L408.26,130.89 L408.40,130.80 L408.53,130.71 L408.67,130.62 L408.81,130.53 L408.94,130.44 L409.08,130.35 L409.22,130.26 L409.35,130.17 L409.49,130.08 L409.63,129.98 L409.76,129.89 L409.90,129.80" stroke="#ff0000" stroke-width="1.45"/>
<path d="M48.90,4.60 L48.92,5.40 L48.95,6.20 L48.97,6.99 L49.00,7.79 L49.02,8.59 L49.05,9.39 L49.08,10.19 L49.11,10.98 L49.14,11.78 L49.17,12.58 L49.20,13.38 L49.23,14.18 L49.26,14.97 L49.30,15.77 L49.33,16.57 L49.37,17.37 L49.40,18.16 L49.44,18.96 L49.48,19.76 L49.51,20.56 L49.55,21.35 L49.59,22.15 L49.63,22.95 L49.67,23.74 L49.71,24.54 L49.75,25.34 L49.79,26.14 L49.83,26.93 L49.88,27.73 L49.92,28.53 L49.96,29.32 L50.01,30.12 L50.05,30.92 L50.10,31.71 L50.14,32.51 L50.19,33.31 L50.24,34.10 L50.29,34.90 L50.34,35.70 L50.39,36.49 L50.44,37.29 L50.50,38.09 L50.55,38.88 L50.61,39.68 L50.66,40.48 L50.72,41.27 L50.78,42.07 L50.84,42.86 L50.90,43.66 L50.96,44.46 L51.02,45.25 L51.08,46.05 L51.15,46.85 L51.21,47.64 L51.27,48.44 L51.34,49.23 L51.41,50.03 L51.47,50.82 L51.54,51.62 L51.61,52.42 L51.68,53.21 L51.75,54.01 L51.82,54.80 L51.89,55.60 L51.97,56.39 L52.04,57.19 L52.11,57.98 L52.19,58.77 L52.26,59.57 L52.34,60.36 L52.42,61.16 L52.49,61.95 L52.57,62.75 L52.66,63.54 L52.74,64.33 L52.83,65.13 L52.92,65.92 L53.01,66.71 L53.10,67.51 L53.19,68.30 L53.29,69.09 L53.39,69.89 L53.49,70.68 L53.59,71.47 L53.69,72.26 L53.79,73.05 L53.90,73.84 L54.01,74.63 L54.12,75.42 L54.23,76.21 L54.35,77.00 L54.47,77.79 L54.59,78.58 L54.72,79.37 L54.85,80.15 L54.99,80.94 L55.12,81.73 L55.26,82.51 L55.40,83.30 L55.54,84.09 L55.69,84.87 L55.83,85.66 L55.97,86.44 L56.11,87.23 L56.25,88.02 L56.39,88.80 L56.53,89.59 L56.66,90.38 L56.79,91.16 L56.92,91.95 L57.04,92.74 L57.16,93.53 L57.29,94.33 L57.41,95.12 L57.54,95.90 L57.67,96.69 L57.81,97.48 L57.95,98.26 L58.10,99.04 L58.26,99.82 L58.43,100.60 L58.61,101.37 L58.80,102.15 L59.00,102.93 L59.21,103.70 L59.42,104.48 L59.65,105.25 L59.89,106.02 L60.13,106.78 L60.38,107.54 L60.64,108.29 L60.92,109.04 L61.20,109.78 L61.49,110.51 L61.81,111.24 L62.15,111.96 L62.52,112.67 L62.91,113.37 L63.31,114.07 L63.72,114.76 L64.13,115.44 L64.53,116.13 L64.95,116.82 L65.38,117.50 L65.81,118.17 L66.26,118.84 L66.72,119.49 L67.20,120.12 L67.69,120.73 L68.21,121.34 L68.74,121.93 L69.29,122.52 L69.86,123.09 L70.44,123.65 L71.03,124.20 L71.63,124.73 L72.25,125.24 L72.86,125.73 L73.50,126.19 L74.16,126.64 L74.83,127.07 L75.51,127.49 L76.20,127.91 L76.89,128.32 L77.57,128.74 L78.25,129.16 L78.93,129.57 L79.62,129.98 L80.31,130.38 L81.00,130.79 L81.69,131.19 L82.37,131.60 L83.06,132.01 L83.73,132.43 L84.41,132.86 L85.07,133.30 L85.73,133.75 L86.39,134.21 L87.05,134.67 L87.70,135.12 L88.36,135.57 L89.03,136.01 L89.70,136.43 L90.39,136.84 L91.08,137.23 L91.79,137.61 L92.49,137.99 L93.19,138.36 L93.90,138.74 L94.60,139.11 L95.31,139.49 L96.02,139.85 L96.73,140.22 L97.44,140.58 L98.15,140.95 L98.86,141.30 L99.58,141.66 L100.29,142.01 L101.01,142.36 L101.73,142.71 L102.45,143.06 L103.17,143.40 L103.89,143.74 L104.61,144.08 L105.34,144.42 L106.06,144.75 L106.79,145.08 L107.52,145.41 L108.24,145.74 L108.97,146.06 L109.70,146.39 L110.44,146.71 L111.17,147.02 L111.90,147.34 L112.64,147.65 L113.37,147.96 L114.11,148.27 L114.84,148.57 L115.58,148.88 L116.32,149.18 L117.06,149.48 L117.80,149.78 L118.54,150.07 L119.29,150.36 L120.03,150.66 L120.77,150.94 L121.52,151.23 L122.27,151.52 L123.01,151.80 L123.76,152.08 L124.51,152.36 L125.26,152.64 L126.00,152.91 L126.75,153.19 L127.50,153.46 L128.26,153.73 L129.01,153.99 L129.76,154.26 L130.51,154.53 L131.27,154.79 L132.02,155.05 L132.78,155.31 L133.53,155.57 L134.29,155.82 L135.04,156.08 L135.80,156.33 L136.56,156.58 L137.32,156.84 L138.07,157.08 L138.83,157.33 L139.59,157.58 L140.35,157.82 L141.11,158.07 L141.87,158.31 L142.63,158.55 L143.39,158.79 L144.16,159.03 L144.92,159.27 L145.68,159.50 L146.44,159.74 L147.21,159.97 L147.97,160.20 L148.74,160.43 L149.50,160.66 L150.27,160.89 L151.03,161.11 L151.80,161.34 L152.56,161.56 L153.33,161.78 L154.10,162.00 L154.87,162.22 L155.63,162.44 L156.40,162.65 L157.17,162.87 L157.94,163.08 L158.71,163.29 L159.48,163.50 L160.25,163.71 L161.02,163.91 L161.79,164.12 L162.57,164.32 L163.34,164.52 L164.11,164.72 L164.89,164.92 L165.66,165.12 L166.43,165.32 L167.21,165.51 L167.98,165.70 L168.76,165.89 L169.53,166.08 L170.31,166.27 L171.08,166.45 L171.86,166.64 L172.64,166.82 L173.42,167.00 L174.19,167.18 L174.97,167.36 L175.75,167.53 L176.53,167.71 L177.31,167.88 L178.09,168.05 L178.87,168.22 L179.65,168.38 L180.43,168.55 L181.21,168.71 L181.99,168.87 L182.78,169.03 L183.56,169.19 L184.34,169.35 L185.12,169.50 L185.91,169.66 L186.69,169.81 L187.48,169.96 L188.26,170.10 L189.05,170.25 L189.83,170.39 L190.62,170.53 L191.40,170.67 L192.19,170.81 L192.98,170.95 L193.76,171.08 L194.55,171.21 L195.34,171.34 L196.12,171.47 L196.91,171.60 L197.70,171.72 L198.49,171.85 L199.28,171.97 L200.07,172.09 L200.86,172.20 L201.65,172.32 L202.44,172.43 L203.23,172.54 L204.02,172.65 L204.81,172.76 L205.60,172.86 L206.39,172.96 L207.19,173.06 L207.98,173.16 L208.77,173.26 L209.56,173.35 L210.36,173.45 L211.15,173.54 L211.94,173.62 L212.74,173.71 L213.53,173.80 L214.32,173.88 L215.12,173.96 L215.91,174.04 L216.71,174.11 L217.50,174.18 L218.30,174.26 L219.09,174.32 L219.89,174.39 L220.68,174.46 L221.48,174.52 L222.27,174.58 L223.07,174.64 L223.87,174.69 L224.66,174.75 L225.46,174.80 L226.26,174.85 L227.05,174.90 L227.85,174.94 L228.65,174.99 L229.44,175.03 L230.24,175.06 L231.04,175.10 L231.84,175.13 L232.63,175.17 L233.43,175.20 L234.23,175.22 L235.03,175.25 L235.83,175.27 L236.62,175.29 L237.42,175.31 L238.22,175.32 L239.02,175.34 L239.82,175.35 L240.61,175.36 L241.41,175.36 L242.21,175.36 L243.01,175.37 L243.81,175.37 L244.61,175.36 L245.40,175.36 L246.20,175.35 L247.00,175.34 L247.80,175.33 L248.60,175.31 L249.39,175.30 L250.19,175.28 L250.99,175.26 L251.79,175.23 L252.59,175.21 L253.38,175.18 L254.18,175.15 L254.98,175.12 L255.78,175.08 L256.57,175.04 L257.37,175.01 L258.17,174.96 L258.96,174.92 L259.76,174.87 L260.56,174.83 L261.36,174.77 L262.15,174.72 L262.95,174.67 L263.74,174.61 L264.54,174.55 L265.34,174.49 L266.13,174.43 L266.93,174.36 L267.72,174.29 L268.52,174.22 L269.31,174.15 L270.11,174.08 L270.90,174.00 L271.70,173.92 L272.49,173.84 L273.28,173.76 L274.08,173.67 L274.87,173.58 L275.66,173.49 L276.46,173.40 L277.25,173.31 L278.04,173.21 L278.84,173.12 L279.63,173.02 L280.42,172.91 L281.21,172.81 L282.00,172.70 L282.79,172.60 L283.58,172.49 L284.37,172.37 L285.16,172.26 L285.95,172.14 L286.74,172.03 L287.53,171.91 L288.32,171.78 L289.11,171.66 L289.90,171.53 L290.69,171.40 L291.47,171.27 L292.26,171.14 L293.05,171.01 L293.83,170.87 L294.62,170.73 L295.41,170.59 L296.19,170.45 L296.98,170.31 L297.76,170.16 L298.54,170.01 L299.33,169.86 L300.11,169.71 L300.90,169.56 L301.68,169.40 L302.46,169.24 L303.24,169.08 L304.03,168.92 L304.81,168.76 L305.59,168.59 L306.37,168.43 L307.15,168.26 L307.93,168.09 L308.71,167.92 L309.49,167.74 L310.27,167.57 L311.04,167.39 L311.82,167.21 L312.60,167.03 L313.38,166.84 L314.15,166.66 L314.93,166.47 L315.70,166.28 L316.48,166.09 L317.25,165.90 L318.03,165.71 L318.80,165.51 L319.57,165.31 L320.35,165.11 L321.12,164.91 L321.89,164.71 L322.66,164.51 L323.44,164.30 L324.21,164.09 L324.98,163.88 L325.75,163.67 L326.52,163.46 L327.28,163.24 L328.05,163.03 L328.82,162.81 L329.59,162.59 L330.36,162.37 L331.12,162.15 L331.89,161.92 L332.65,161.70 L333.42,161.47 L334.18,161.24 L334.95,161.01 L335.71,160.78 L336.47,160.54 L337.24,160.31 L338.00,160.07 L338.76,159.83 L339.52,159.59 L340.28,159.35 L341.04,159.11 L341.80,158.86 L342.56,158.62 L343.32,158.37 L344.08,158.12 L344.84,157.87 L345.60,157.62 L346.36,157.37 L347.11,157.12 L347.87,156.87 L348.63,156.61 L349.38,156.36 L350.14,156.10 L350.90,155.85 L351.65,155.59 L352.41,155.33 L353.16,155.07 L353.92,154.81 L354.67,154.55 L355.43,154.29 L356.18,154.03 L356.93,153.77 L357.69,153.51 L358.44,153.24 L359.19,152.98 L359.95,152.72 L360.70,152.45 L361.45,152.19 L362.21,151.92 L362.96,151.66 L363.71,151.39 L364.46,151.12 L365.22,150.86 L365.97,150.59 L366.72,150.32 L367.47,150.06 L368.23,149.79 L368.98,149.52 L369.73,149.26 L370.48,148.99 L371.24,148.72 L371.99,148.46 L372.74,148.19 L373.49,147.93 L374.25,147.66 L375.00,147.39 L375.75,147.13 L376.50,146.86 L377.26,146.60 L378.01,146.33 L378.76,146.07 L379.52,145.80 L380.27,145.54 L381.02,145.28 L381.78,145.02 L382.53,144.75 L383.29,144.49 L384.04,144.23 L384.80,143.97 L385.55,143.71 L386.31,143.46 L387.06,143.20 L387.82,142.94 L388.57,142.68 L389.33,142.43 L390.09,142.18 L390.84,141.92 L391.60,141.67 L392.36,141.42 L393.12,141.17 L393.87,140.92 L394.63,140.67 L395.39,140.42 L396.15,140.18 L396.91,139.93 L397.67,139.69 L398.43,139.45 L399.19,139.21 L399.96,138.97 L400.72,138.73 L401.48,138.50 L402.24,138.26 L403.01,138.03 L403.77,137.80 L404.53,137.57 L405.30,137.34 L406.07,137.11 L406.83,136.89 L407.60,136.66 L408.36,136.44 L409.13,136.22 L409.90,136.01" stroke="#ff0000" stroke-width="1.45"/>
<path d="M49.20,4.60 L49.22,5.45 L49.25,6.31 L49.28,7.16 L49.30,8.02 L49.33,8.87 L49.36,9.73 L49.39,10.58 L49.42,11.44 L49.45,12.29 L49.49,13.15 L49.52,14.00 L49.56,14.85 L49.59,15.71 L49.63,16.56 L49.67,17.42 L49.70,18.27 L49.74,19.13 L49.78,19.98 L49.82,20.83 L49.87,21.69 L49.91,22.54 L49.95,23.39 L49.99,24.25 L50.04,25.10 L50.08,25.96 L50.13,26.81 L50.17,27.66 L50.22,28.52 L50.27,29.37 L50.31,30.22 L50.36,31.07 L50.41,31.93 L50.46,32.78 L50.51,33.63 L50.57,34.49 L50.62,35.34 L50.68,36.19 L50.73,37.05 L50.79,37.90 L50.85,38.75 L50.91,39.61 L50.97,40.46 L51.03,41.31 L51.10,42.16 L51.16,43.02 L51.23,43.87 L51.29,44.72 L51.36,45.57 L51.43,46.43 L51.50,47.28 L51.57,48.13 L51.64,48.98 L51.72,49.84 L51.79,50.69 L51.86,51.54 L51.94,52.39 L52.02,53.24 L52.09,54.09 L52.17,54.95 L52.25,55.80 L52.33,56.65 L52.41,57.50 L52.49,58.35 L52.57,59.20 L52.66,60.05 L52.74,60.90 L52.83,61.75 L52.91,62.60 L53.00,63.45 L53.10,64.30 L53.19,65.15 L53.29,66.00 L53.39,66.85 L53.49,67.70 L53.60,68.55 L53.70,69.40 L53.81,70.24 L53.92,71.09 L54.04,71.94 L54.15,72.79 L54.27,73.63 L54.38,74.48 L54.50,75.33 L54.62,76.17 L54.75,77.02 L54.88,77.86 L55.02,78.71 L55.15,79.55 L55.30,80.39 L55.44,81.23 L55.59,82.08 L55.74,82.92 L55.89,83.76 L56.04,84.60 L56.19,85.44 L56.34,86.28 L56.50,87.13 L56.65,87.97 L56.79,88.81 L56.94,89.65 L57.08,90.50 L57.22,91.34 L57.35,92.19 L57.48,93.03 L57.61,93.88 L57.74,94.73 L57.88,95.58 L58.02,96.42 L58.16,97.26 L58.31,98.10 L58.47,98.94 L58.65,99.77 L58.84,100.60 L59.04,101.43 L59.25,102.26 L59.48,103.08 L59.72,103.91 L59.98,104.73 L60.24,105.55 L60.52,106.37 L60.80,107.18 L61.10,107.98 L61.40,108.77 L61.72,109.56 L62.05,110.34 L62.40,111.11 L62.79,111.87 L63.20,112.63 L63.63,113.38 L64.07,114.12 L64.51,114.85 L64.95,115.58 L65.40,116.31 L65.86,117.04 L66.33,117.76 L66.82,118.47 L67.33,119.15 L67.85,119.82 L68.40,120.46 L68.97,121.09 L69.56,121.71 L70.17,122.32 L70.80,122.91 L71.44,123.49 L72.10,124.05 L72.76,124.58 L73.43,125.10 L74.12,125.60 L74.83,126.08 L75.55,126.54 L76.29,126.99 L77.03,127.42 L77.78,127.83 L78.54,128.22 L79.31,128.58 L80.10,128.92 L80.90,129.24 L81.70,129.56 L82.50,129.88 L83.29,130.21 L84.06,130.57 L84.81,130.95 L85.54,131.38 L86.25,131.85 L86.94,132.35 L87.63,132.86 L88.31,133.39 L89.00,133.91 L89.69,134.41 L90.40,134.89 L91.11,135.36 L91.83,135.82 L92.55,136.29 L93.26,136.76 L93.98,137.23 L94.69,137.70 L95.40,138.17 L96.11,138.65 L96.83,139.12 L97.54,139.59 L98.25,140.07 L98.96,140.54 L99.67,141.02 L100.38,141.49 L101.09,141.97 L101.80,142.44 L102.51,142.92 L103.22,143.40 L103.93,143.87 L104.65,144.34 L105.36,144.82 L106.07,145.29 L106.78,145.76 L107.49,146.24 L108.21,146.71 L108.92,147.18 L109.64,147.65 L110.35,148.11 L111.07,148.58 L111.78,149.05 L112.50,149.51 L113.22,149.98 L113.94,150.44 L114.66,150.90 L115.38,151.36 L116.10,151.81 L116.83,152.27 L117.55,152.72 L118.28,153.18 L119.00,153.63 L119.73,154.08 L120.46,154.52 L121.19,154.97 L121.92,155.41 L122.65,155.85 L123.39,156.29 L124.12,156.72 L124.86,157.16 L125.60,157.59 L126.34,158.02 L127.08,158.44 L127.82,158.87 L128.57,159.29 L129.31,159.70 L130.06,160.12 L130.81,160.53 L131.56,160.94 L132.31,161.34 L133.07,161.75 L133.82,162.14 L134.58,162.54 L135.34,162.93 L136.10,163.32 L136.87,163.70 L137.63,164.08 L138.40,164.46 L139.17,164.83 L139.94,165.20 L140.72,165.56 L141.49,165.92 L142.27,166.27 L143.05,166.62 L143.83,166.96 L144.62,167.30 L145.41,167.64 L146.20,167.96 L146.99,168.29 L147.78,168.60 L148.58,168.92 L149.38,169.22 L150.18,169.52 L150.98,169.81 L151.78,170.10 L152.59,170.38 L153.40,170.65 L154.21,170.92 L155.03,171.18 L155.84,171.44 L156.66,171.69 L157.48,171.93 L158.30,172.16 L159.13,172.39 L159.95,172.62 L160.78,172.83 L161.61,173.04 L162.44,173.24 L163.27,173.44 L164.10,173.63 L164.94,173.81 L165.78,173.99 L166.61,174.16 L167.45,174.32 L168.29,174.48 L169.14,174.63 L169.98,174.77 L170.82,174.91 L171.67,175.04 L172.51,175.16 L173.36,175.28 L174.21,175.39 L175.06,175.50 L175.90,175.60 L176.75,175.69 L177.61,175.77 L178.46,175.85 L179.31,175.92 L180.16,175.99 L181.01,176.05 L181.87,176.10 L182.72,176.15 L183.57,176.19 L184.43,176.23 L185.28,176.26 L186.14,176.28 L186.99,176.30 L187.85,176.31 L188.70,176.31 L189.56,176.31 L190.41,176.31 L191.27,176.29 L192.12,176.28 L192.98,176.26 L193.83,176.22 L194.68,176.19 L195.54,176.15 L196.39,176.10 L197.24,176.05 L198.10,176.00 L198.95,175.94 L199.80,175.87 L200.65,175.80 L201.51,175.72 L202.36,175.64 L203.21,175.55 L204.06,175.46 L204.91,175.36 L205.76,175.26 L206.60,175.16 L207.45,175.05 L208.30,174.93 L209.14,174.81 L209.99,174.69 L210.84,174.56 L211.68,174.42 L212.52,174.29 L213.37,174.14 L214.21,174.00 L215.05,173.85 L215.89,173.69 L216.73,173.54 L217.57,173.37 L218.41,173.21 L219.25,173.04 L220.08,172.86 L220.92,172.69 L221.76,172.51 L222.59,172.32 L223.42,172.13 L224.26,171.94 L225.09,171.75 L225.92,171.55 L226.75,171.35 L227.58,171.14 L228.41,170.93 L229.24,170.72 L230.07,170.51 L230.89,170.29 L231.72,170.07 L232.55,169.84 L233.37,169.62 L234.19,169.39 L235.02,169.16 L235.84,168.92 L236.66,168.68 L237.48,168.44 L238.30,168.20 L239.12,167.96 L239.94,167.71 L240.75,167.46 L241.57,167.21 L242.39,166.95 L243.20,166.69 L244.02,166.43 L244.83,166.17 L245.64,165.91 L246.46,165.64 L247.27,165.38 L248.08,165.11 L248.89,164.83 L249.70,164.56 L250.51,164.28 L251.32,164.01 L252.12,163.73 L252.93,163.44 L253.74,163.16 L254.54,162.88 L255.35,162.59 L256.15,162.30 L256.96,162.01 L257.76,161.72 L258.56,161.42 L259.37,161.13 L260.17,160.83 L260.97,160.53 L261.77,160.23 L262.57,159.92 L263.36,159.62 L264.16,159.31 L264.96,159.00 L265.76,158.69 L266.55,158.38 L267.35,158.06 L268.14,157.75 L268.93,157.43 L269.73,157.11 L270.52,156.79 L271.31,156.46 L272.10,156.14 L272.89,155.81 L273.68,155.48 L274.47,155.15 L275.25,154.82 L276.04,154.48 L276.83,154.15 L277.61,153.81 L278.40,153.47 L279.18,153.13 L279.96,152.78 L280.74,152.44 L281.53,152.09 L282.31,151.74 L283.09,151.39 L283.87,151.04 L284.64,150.69 L285.42,150.33 L286.20,149.97 L286.97,149.61 L287.75,149.25 L288.52,148.89 L289.29,148.52 L290.07,148.16 L290.84,147.79 L291.61,147.42 L292.38,147.05 L293.15,146.68 L293.92,146.30 L294.68,145.92 L295.45,145.55 L296.22,145.17 L296.98,144.79 L297.75,144.40 L298.51,144.02 L299.27,143.63 L300.03,143.24 L300.79,142.85 L301.55,142.46 L302.31,142.07 L303.07,141.67 L303.83,141.27 L304.58,140.88 L305.34,140.48 L306.09,140.07 L306.85,139.67 L307.60,139.27 L308.35,138.86 L309.10,138.45 L309.85,138.04 L310.60,137.63 L311.35,137.22 L312.10,136.80 L312.85,136.39 L313.59,135.97 L314.34,135.55 L315.08,135.13 L315.82,134.71 L316.57,134.28 L317.31,133.86 L318.05,133.43 L318.79,133.00 L319.53,132.57 L320.26,132.14 L321.00,131.70 L321.74,131.27 L322.47,130.83 L323.21,130.39 L323.94,129.95 L324.67,129.51 L325.40,129.07 L326.13,128.63 L326.86,128.18 L327.59,127.73 L328.32,127.28 L329.04,126.83 L329.77,126.38 L330.50,125.93 L331.22,125.47 L331.94,125.02 L332.66,124.56 L333.38,124.10 L334.10,123.64 L334.82,123.17 L335.54,122.71 L336.26,122.24 L336.97,121.78 L337.69,121.31 L338.40,120.84 L339.11,120.36 L339.82,119.89 L340.53,119.41 L341.24,118.93 L341.95,118.45 L342.66,117.97 L343.36,117.49 L344.06,117.00 L344.77,116.52 L345.47,116.03 L346.17,115.54 L346.87,115.05 L347.57,114.55 L348.26,114.06 L348.96,113.56 L349.65,113.06 L350.34,112.56 L351.04,112.06 L351.73,111.55 L352.42,111.05 L353.10,110.54 L353.79,110.03 L354.47,109.52 L355.16,109.00 L355.84,108.49 L356.52,107.97 L357.20,107.45 L357.88,106.93 L358.55,106.41 L359.23,105.88 L359.90,105.36 L360.57,104.83 L361.24,104.30 L361.91,103.77 L362.58,103.23 L363.25,102.70 L363.91,102.16 L364.58,101.62 L365.24,101.08 L365.90,100.54 L366.56,99.99 L367.22,99.45 L367.87,98.90 L368.53,98.35 L369.18,97.80 L369.83,97.24 L370.48,96.69 L371.13,96.13 L371.78,95.57 L372.42,95.01 L373.07,94.45 L373.71,93.89 L374.35,93.32 L374.99,92.75 L375.63,92.18 L376.26,91.61 L376.90,91.04 L377.53,90.47 L378.16,89.89 L378.79,89.31 L379.42,88.73 L380.05,88.15 L380.67,87.57 L381.29,86.98 L381.92,86.40 L382.54,85.81 L383.16,85.22 L383.77,84.63 L384.39,84.03 L385.00,83.44 L385.61,82.84 L386.23,82.24 L386.83,81.64 L387.44,81.04 L388.05,80.44 L388.65,79.83 L389.26,79.23 L389.86,78.62 L390.46,78.01 L391.05,77.40 L391.65,76.79 L392.25,76.17 L392.84,75.56 L393.43,74.94 L394.02,74.32 L394.61,73.70 L395.20,73.08 L395.78,72.46 L396.36,71.83 L396.95,71.21 L397.53,70.58 L398.11,69.95 L398.68,69.32 L399.26,68.69 L399.83,68.05 L400.41,67.42 L400.98,66.78 L401.55,66.15 L402.11,65.51 L402.68,64.87 L403.25,64.22 L403.81,63.58 L404.37,62.94 L404.93,62.29 L405.49,61.64 L406.05,61.00 L406.60,60.35 L407.15,59.69 L407.71,59.04 L408.26,58.39 L408.81,57.73 L409.35,57.08 L409.90,56.42" stroke="#0000ff" stroke-width="1.45"/>
</g>
<g font-family="'Liberation Sans', sans-serif" font-weight="bold" font-size="11.5px" fill="#000" stroke="#000" stroke-width="0.22" mask="url(#m)">
<text x="1.8" y="296.65" textLength="24.0" lengthAdjust="spacingAndGlyphs">0.00</text>
<text x="1.8" y="248.78" textLength="24.0" lengthAdjust="spacingAndGlyphs">0.05</text>
<text x="1.8" y="200.92" textLength="24.0" lengthAdjust="spacingAndGlyphs">0.10</text>
<text x="1.8" y="153.05" textLength="24.0" lengthAdjust="spacingAndGlyphs">0.15</text>
<text x="1.8" y="105.18" textLength="24.0" lengthAdjust="spacingAndGlyphs">0.20</text>
<text x="1.8" y="57.32" textLength="24.0" lengthAdjust="spacingAndGlyphs">0.25</text>
<text x="1.8" y="9.45" textLength="24.0" lengthAdjust="spacingAndGlyphs">0.30</text>
<text x="21.40" y="306.7" textLength="12.1" lengthAdjust="spacingAndGlyphs">10</text>
<text x="34.10" y="302.5">0</text>
<text x="83.65" y="306.7" textLength="12.1" lengthAdjust="spacingAndGlyphs">10</text>
<text x="96.35" y="302.5">1</text>
<text x="145.90" y="306.7" textLength="12.1" lengthAdjust="spacingAndGlyphs">10</text>
<text x="158.60" y="302.5">2</text>
<text x="208.15" y="306.7" textLength="12.1" lengthAdjust="spacingAndGlyphs">10</text>
<text x="220.85" y="302.5">3</text>
<text x="270.40" y="306.7" textLength="12.1" lengthAdjust="spacingAndGlyphs">10</text>
<text x="283.10" y="302.5">4</text>
<text x="332.65" y="306.7" textLength="12.1" lengthAdjust="spacingAndGlyphs">10</text>
<text x="345.35" y="302.5">5</text>
<text x="394.90" y="306.7" textLength="12.1" lengthAdjust="spacingAndGlyphs">10</text>
<text x="407.60" y="302.5">6</text>
</g>
<g font-family="'Liberation Serif', serif" fill="#000" mask="url(#m)">
<text transform="translate(65.4,61.3) scale(1.12,1)" font-size="23.5px" stroke="#000" stroke-width="0.25">x</text>
<text transform="translate(78.0,61.3) scale(1.17,1)" font-size="23.5px" stroke="#000" stroke-width="0.15">P</text>
<text transform="translate(94.2,66.2) scale(1.14,1)" font-size="15.2px" font-weight="bold" stroke="#000" stroke-width="0.2">gg</text>
<text transform="translate(204.2,327.4) scale(1.2,1)" font-size="17.7px" stroke="#000" stroke-width="0.3">1</text>
<text transform="translate(215.0,330.5) scale(1.38,1)" font-size="25px" stroke="#000" stroke-width="0.2">/</text>
<text transform="translate(225.6,327.4) scale(1.14,1)" font-size="17.7px" stroke="#000" stroke-width="0.3">x</text>
</g>
</svg>
</body></html>
